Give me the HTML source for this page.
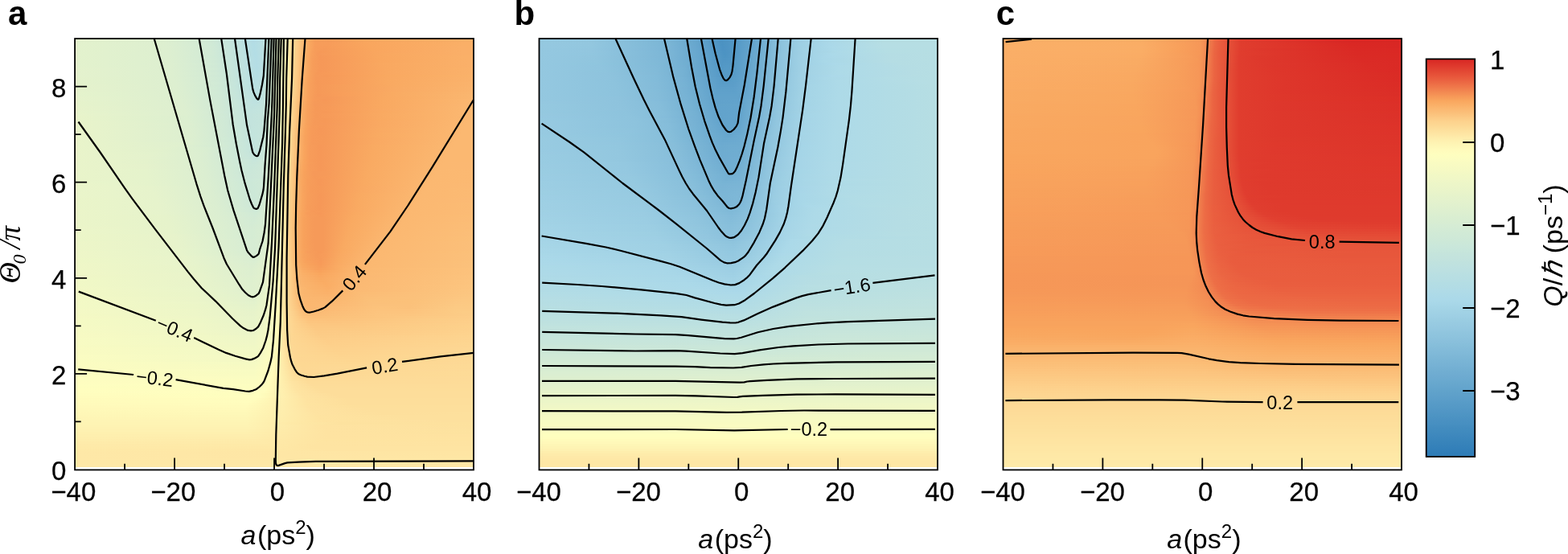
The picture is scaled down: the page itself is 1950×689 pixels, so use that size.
<!DOCTYPE html>
<html><head><meta charset="utf-8"><title>figure</title>
<style>
html,body{margin:0;padding:0;background:#fff}
body{width:1950px;height:689px;position:relative;overflow:hidden}
.hm{position:absolute;display:flex;flex-direction:column}
.hm i{display:block;flex:none}
svg{position:absolute;left:0;top:0}
</style></head><body>
<div class="hm" style="left:93.1px;top:48px;width:496px;height:532.5px"><i style="height:3px;background:linear-gradient(90deg,#e3f2cd 0px,#ddefd0 114px,#d0e9d6 171px,#c0e2df 203px,#b3dce5 221px,#b9dfe2 234px,#c5e4dc 241px,#fefebf 261px,#fddb97 271px,#f9a961 291px,#f79e5b 298px,#f79c5a 315px,#f9a65e 359px,#f9ab63 417px,#faaf67 495px)"></i><i style="height:3px;background:linear-gradient(90deg,#e3f2cd 0px,#ddefd0 114px,#d0e9d6 171px,#c0e2df 203px,#b3dce5 222px,#b9dfe2 234px,#c5e5dc 241px,#fefebf 261px,#fddd9a 270px,#f9a75f 292px,#f79d5a 299px,#f79c5a 317px,#f9a65e 361px,#faaf67 484px,#faaf67 495px)"></i><i style="height:3px;background:linear-gradient(90deg,#e3f2cd 0px,#ddefd0 114px,#d0ead6 171px,#c0e2de 203px,#b3dde5 222px,#b8dfe2 233px,#c6e5dc 241px,#fefebf 261px,#fddd99 270px,#f9a75f 292px,#f79d5a 299px,#f79c5a 314px,#f9a65e 365px,#faaf67 482px,#faaf67 495px)"></i><i style="height:3px;background:linear-gradient(90deg,#e3f2cd 0px,#ddefd0 115px,#d1ead6 171px,#c0e2de 203px,#b3dde5 223px,#b8dfe2 233px,#c6e5db 241px,#fefebf 261px,#fddc99 270px,#f9a75f 292px,#f79c5a 299px,#f79b59 312px,#f9a65e 368px,#faaf68 482px,#faaf67 495px)"></i><i style="height:3px;background:linear-gradient(90deg,#e3f2cd 0px,#ddefd0 115px,#d1ead6 171px,#c1e3de 203px,#b3dde5 223px,#b9dfe2 233px,#c9e6da 242px,#fefebf 261px,#fddc98 270px,#f9a860 291px,#f79d5a 298px,#f69a59 309px,#f9a65e 370px,#faaf68 482px,#faaf68 495px)"></i><i style="height:3px;background:linear-gradient(90deg,#e3f2cd 0px,#ddefd0 116px,#d1ead6 172px,#c0e2de 204px,#b3dde5 224px,#b9dfe2 233px,#cae6da 242px,#fefebf 261px,#fddc98 270px,#f9aa62 290px,#f79e5b 296px,#f69958 305px,#f9a65f 374px,#faaf68 482px,#faaf68 495px)"></i><i style="height:3px;background:linear-gradient(90deg,#e3f2cd 0px,#ddefd0 116px,#d1ead6 172px,#c1e3de 203px,#b3dde5 224px,#b8dfe2 233px,#cae7da 242px,#fefebf 261px,#fddc98 270px,#f9ab64 289px,#f8a15c 294px,#f69959 302px,#f79d5a 325px,#f9a860 385px,#faaf68 485px,#faaf68 495px)"></i><i style="height:3px;background:linear-gradient(90deg,#e3f2cd 0px,#ddefd0 117px,#d0ead6 173px,#c1e3de 204px,#b3dde5 225px,#badfe2 234px,#cde8d8 243px,#fefebf 261px,#fddc98 270px,#f9aa63 289px,#f79f5b 295px,#f69858 305px,#f9a75f 378px,#fab068 485px,#fab068 495px)"></i><i style="height:3px;background:linear-gradient(90deg,#e3f2cd 0px,#ddefd0 118px,#d1ead6 173px,#c1e3de 204px,#b4dde5 225px,#b8dfe2 233px,#c8e6db 241px,#fcfdc0 260px,#fefebf 261px,#fdd995 271px,#f9aa62 289px,#f79e5b 295px,#f69858 305px,#f9a75f 381px,#fab068 487px,#fab068 495px)"></i><i style="height:3px;background:linear-gradient(90deg,#e3f2cd 0px,#ddefd0 118px,#d0e9d6 174px,#c0e2de 206px,#b4dde5 226px,#b9dfe2 234px,#cde8d8 243px,#fafcc2 259px,#fefebf 261px,#fdd995 271px,#f9a961 289px,#f79d5a 296px,#f69858 307px,#f9a75f 380px,#fab069 488px,#fab069 495px)"></i><i style="height:3px;background:linear-gradient(90deg,#e3f2cd 0px,#ddefd0 119px,#d1ead6 174px,#c0e2de 206px,#b4dde5 226px,#b9dfe2 234px,#cde8d8 243px,#fafcc1 259px,#fffebf 261px,#fdd995 271px,#f9a961 289px,#f79d5a 296px,#f69858 307px,#f9a860 382px,#fab069 489px,#fab069 495px)"></i><i style="height:3px;background:linear-gradient(90deg,#e3f2cd 0px,#ddefd0 120px,#d0e9d6 175px,#c0e2de 207px,#b4dde5 226px,#b9dfe2 234px,#cde8d8 243px,#fafcc1 259px,#fffebf 261px,#fdd894 271px,#f9a961 289px,#f79d5a 296px,#f69858 307px,#f9a860 384px,#fab069 491px,#fab069 495px)"></i><i style="height:3px;background:linear-gradient(90deg,#e4f2cd 0px,#ddefd0 120px,#d1ead6 175px,#c0e2de 207px,#b4dde4 227px,#bbe0e1 235px,#d0e9d6 244px,#fafcc1 259px,#fffebf 261px,#fdd894 271px,#f9a961 289px,#f79d5a 296px,#f69858 307px,#f9a860 385px,#fab169 492px,#fab169 495px)"></i><i style="height:3px;background:linear-gradient(90deg,#e4f2cd 0px,#ddefd0 121px,#d0e9d6 176px,#c0e2df 208px,#b4dde4 227px,#bbe0e1 235px,#d0e9d6 244px,#fafcc1 259px,#fffebf 261px,#fdd894 271px,#f9aa63 288px,#f79f5b 294px,#f69858 305px,#f9a861 388px,#fab16a 494px,#fab16a 495px)"></i><i style="height:3px;background:linear-gradient(90deg,#e4f2cd 0px,#ddefd0 122px,#d1ead6 176px,#c0e2de 208px,#b5dde4 227px,#bce0e1 235px,#d4ebd5 245px,#fcfdc0 260px,#fffebf 261px,#fdd894 271px,#faac64 287px,#f8a25c 292px,#f69958 301px,#f79b59 319px,#f9a861 387px,#fab16a 494px,#fab16a 495px)"></i><i style="height:3px;background:linear-gradient(90deg,#e4f2cd 0px,#ddefd0 122px,#d0e9d6 177px,#c0e2df 209px,#b5dde4 227px,#bde1e0 235px,#d4ebd4 245px,#fcfdc0 260px,#fffebf 261px,#fdd894 271px,#faad66 286px,#f8a35d 291px,#f69a59 299px,#f69958 312px,#f9a860 385px,#fab26a 495px)"></i><i style="height:3px;background:linear-gradient(90deg,#e4f2cc 0px,#ddefd0 123px,#d1ead6 177px,#c0e2de 209px,#b6dee4 227px,#bde1e0 235px,#d5ecd4 245px,#fffebf 261px,#fdd894 271px,#faac65 286px,#f8a25c 291px,#f69959 300px,#f69a59 315px,#f9a861 386px,#fab26b 495px)"></i><i style="height:3px;background:linear-gradient(90deg,#e4f2cc 0px,#ddefd0 124px,#d0e9d6 178px,#b7dee3 227px,#bee1e0 235px,#d6ecd4 245px,#fffebf 261px,#fdda97 270px,#faac64 286px,#f8a25c 291px,#f69958 301px,#f79b59 320px,#f9a961 387px,#fab26b 495px)"></i><i style="height:3px;background:linear-gradient(90deg,#e4f2cc 0px,#ddefd0 125px,#d1ead6 178px,#b8dfe3 226px,#bde1e0 234px,#d0e9d6 243px,#fdfdc0 260px,#fffdbe 261px,#fdda96 270px,#f9ab64 286px,#f8a15c 291px,#f69958 301px,#f79b59 320px,#f9a961 387px,#fab36c 495px)"></i><i style="height:3px;background:linear-gradient(90deg,#e5f2cc 0px,#ddefd0 126px,#d0e9d6 179px,#b8dfe2 225px,#bde1e0 233px,#cee8d7 242px,#fdfdc0 260px,#fffdbd 261px,#fddd99 269px,#f9ab63 286px,#f8a15c 291px,#f69958 302px,#f79f5b 334px,#f9aa62 396px,#fab36c 495px)"></i><i style="height:3px;background:linear-gradient(90deg,#e5f2cc 0px,#ddefd0 127px,#d0ead6 179px,#b9dfe2 225px,#bfe2df 234px,#d1ead6 243px,#fefdc0 260px,#fef8b8 262px,#fddc99 269px,#f9ab63 286px,#f8a15c 291px,#f69958 302px,#f79f5b 335px,#f9aa63 397px,#fab46d 495px)"></i><i style="height:3px;background:linear-gradient(90deg,#e5f2cc 0px,#ddefd0 127px,#d0e9d6 180px,#badfe2 225px,#bfe2df 234px,#d1ead6 243px,#fefebf 260px,#fddc98 269px,#f9ab63 286px,#f8a15c 291px,#f69958 302px,#f79f5b 335px,#f9aa63 397px,#fab46d 495px)"></i><i style="height:3px;background:linear-gradient(90deg,#e5f3cc 0px,#ddefd0 128px,#d0ead6 180px,#bae0e1 225px,#bfe2df 234px,#d1ead6 243px,#fffebf 260px,#fddb97 269px,#f9ab63 286px,#f8a15c 291px,#f69958 302px,#f89f5b 336px,#f9ab63 398px,#fab56e 495px)"></i><i style="height:3px;background:linear-gradient(90deg,#e5f3cc 0px,#ddefd0 129px,#d0e9d6 181px,#bbe0e1 226px,#c1e3de 235px,#d4ebd5 244px,#fffebf 260px,#fddd9a 268px,#f9ab63 286px,#f8a15c 291px,#f69858 302px,#f89f5b 336px,#f9ab63 397px,#fab66f 495px)"></i><i style="height:3px;background:linear-gradient(90deg,#e6f3cc 0px,#ddefd0 130px,#d0e9d6 181px,#bbe0e1 226px,#c1e3de 235px,#d4ebd5 244px,#fdfdc0 259px,#fffdbe 260px,#fddc99 268px,#faac65 285px,#f8a25c 290px,#f69a59 299px,#f69959 314px,#f9a961 384px,#fab66f 495px)"></i><i style="height:3px;background:linear-gradient(90deg,#e6f3cc 0px,#ddefd0 132px,#d0e9d6 182px,#bce1e0 226px,#c2e3de 235px,#d1ead6 243px,#fefdc0 259px,#fff8b9 261px,#fddc98 268px,#faae67 284px,#f9a45d 289px,#f79b59 297px,#f69858 310px,#f9a961 383px,#fbb770 495px)"></i><i style="height:3px;background:linear-gradient(90deg,#e6f3cb 0px,#ddefd0 133px,#d0e9d6 182px,#bee1e0 224px,#c2e3de 234px,#cfe9d7 242px,#fefebf 259px,#fef4b4 262px,#fddb98 268px,#faaf68 283px,#f8a35d 289px,#f69a59 298px,#f69958 312px,#f9a961 383px,#fbb770 495px)"></i><i style="height:3px;background:linear-gradient(90deg,#e6f3cb 0px,#ddefd0 134px,#d0e9d6 183px,#bfe2df 222px,#c2e3dd 234px,#cfe9d7 242px,#fefebf 259px,#feeaa9 264px,#fdd591 270px,#faac65 284px,#f8a25c 289px,#f69959 299px,#f69a59 314px,#f9a961 382px,#fbb771 495px)"></i><i style="height:3px;background:linear-gradient(90deg,#e7f3cb 0px,#ddefd0 135px,#d0e9d6 183px,#c0e2de 220px,#c3e4dd 234px,#d0e9d6 242px,#fefebf 259px,#feeaa9 264px,#fdd590 270px,#faac64 284px,#f8a25c 289px,#f69958 300px,#f79b59 318px,#f9a961 383px,#fbb871 495px)"></i><i style="height:3px;background:linear-gradient(90deg,#e7f3cb 0px,#ddefd0 137px,#d0e9d6 184px,#c1e3de 219px,#c4e4dd 234px,#cfe9d7 241px,#fefebf 259px,#fdd894 269px,#f9ab64 284px,#f8a15c 289px,#f69958 300px,#f79b59 318px,#f9a962 383px,#fbb871 495px)"></i><i style="height:3px;background:linear-gradient(90deg,#e7f4cb 0px,#ddefd0 138px,#d0e9d7 185px,#c2e3de 218px,#c3e4dd 233px,#cde8d8 240px,#fefebf 259px,#fdd894 269px,#faad66 283px,#f8a35d 288px,#f69a59 297px,#f69958 311px,#f9a961 381px,#fbb871 495px)"></i><i style="height:3px;background:linear-gradient(90deg,#e8f4cb 0px,#ddefd0 139px,#d0e9d6 185px,#c2e3dd 218px,#c5e4dc 234px,#d2ead5 242px,#fefebf 259px,#feeaa9 264px,#fdd590 270px,#f9ab63 284px,#f8a15c 289px,#f69958 300px,#f79c5a 321px,#f9aa62 383px,#fbb871 495px)"></i><i style="height:3px;background:linear-gradient(90deg,#e8f4ca 0px,#dcefd0 140px,#d0e9d7 186px,#c2e3dd 218px,#c5e4dc 234px,#d2ead5 242px,#fefebf 259px,#feeaa9 264px,#fdd590 270px,#f9ab63 284px,#f8a15c 289px,#f69958 300px,#f79c5a 323px,#f9aa62 384px,#fbb871 495px)"></i><i style="height:3px;background:linear-gradient(90deg,#e8f4ca 0px,#dcefd0 141px,#d0e9d6 186px,#c3e3dd 218px,#c4e4dc 233px,#d0e9d6 241px,#fefebf 259px,#feeaa9 264px,#fdd590 270px,#faad66 283px,#f8a35d 288px,#f69a59 297px,#f69958 311px,#f9a961 379px,#fbb871 492px,#fbb871 495px)"></i><i style="height:3px;background:linear-gradient(90deg,#e9f4ca 0px,#dcefd0 142px,#d0e9d6 186px,#c3e3dd 218px,#c4e4dc 233px,#d0e9d6 241px,#fefebf 259px,#feeaa9 264px,#fdd490 270px,#faad66 283px,#f8a35d 288px,#f69a59 297px,#f69958 311px,#f9a962 379px,#fbb871 490px,#fbb871 495px)"></i><i style="height:3px;background:linear-gradient(90deg,#e9f4ca 0px,#ddefd0 142px,#d0e9d6 187px,#c3e3dd 218px,#c5e4dc 233px,#d1ead6 241px,#fffebf 259px,#feeaa9 264px,#fdd48f 270px,#faaf68 282px,#f8a25c 288px,#f69a59 297px,#f69959 311px,#f9a962 379px,#fbb871 488px,#fbb871 495px)"></i><i style="height:3px;background:linear-gradient(90deg,#e9f4ca 0px,#dcefd0 143px,#d0e9d6 187px,#c3e3dd 219px,#c5e5dc 234px,#d3ebd5 242px,#fffebf 259px,#feeaa8 264px,#fdd48f 270px,#fab16a 281px,#f9a45d 287px,#f79b59 295px,#f69958 308px,#f9a962 378px,#fbb871 486px,#fbb871 495px)"></i><i style="height:3px;background:linear-gradient(90deg,#e9f4ca 0px,#ddefd0 143px,#d0e9d6 187px,#c3e4dd 219px,#c5e4dc 233px,#d1ead6 241px,#fffebf 259px,#fdd692 269px,#fab36b 280px,#f9a55e 286px,#f79c5a 293px,#f69858 306px,#f9aa62 378px,#fbb871 485px,#fbb871 495px)"></i><i style="height:3px;background:linear-gradient(90deg,#e9f4ca 0px,#ddefd0 143px,#d0e9d6 188px,#c3e4dd 220px,#c5e4dc 233px,#d1ead6 241px,#fffebf 259px,#fdd894 268px,#fab26a 280px,#f9a45d 286px,#f79b59 294px,#f69858 307px,#f9a962 376px,#fbb871 482px,#fbb871 495px)"></i><i style="height:3px;background:linear-gradient(90deg,#e9f4ca 0px,#ddefd0 144px,#d0e9d6 189px,#c3e4dd 221px,#c5e5dc 233px,#d2ead6 241px,#fffebf 259px,#fdd894 268px,#fab16a 280px,#f9a45d 286px,#f79b59 294px,#f69858 307px,#f9aa62 376px,#fbb871 481px,#fbb871 495px)"></i><i style="height:3px;background:linear-gradient(90deg,#e9f4ca 0px,#ddefd0 144px,#d0e9d6 189px,#c3e4dd 221px,#c6e5dc 233px,#d5ebd4 242px,#fffebf 259px,#fdd793 268px,#fab069 280px,#f8a35d 286px,#f79a59 295px,#f69958 309px,#f9aa62 375px,#fbb871 479px,#fbb871 495px)"></i><i style="height:3px;background:linear-gradient(90deg,#e9f4ca 0px,#ddefd0 143px,#d0ead6 189px,#c3e4dd 222px,#c6e5db 233px,#d5ecd4 242px,#fffebf 259px,#fdd792 268px,#fab069 280px,#f8a35d 286px,#f79a59 295px,#f69958 309px,#f9a962 374px,#fbb871 477px,#fbb871 495px)"></i><i style="height:3px;background:linear-gradient(90deg,#e9f4ca 0px,#deefd0 142px,#d0e9d6 190px,#c3e4dd 222px,#c6e5db 233px,#d6ecd4 242px,#fffebf 259px,#fdd792 268px,#fab069 280px,#f8a35d 286px,#f79a59 295px,#f69958 309px,#f9a962 373px,#fbb871 475px,#fbb871 495px)"></i><i style="height:3px;background:linear-gradient(90deg,#e9f4ca 0px,#dff0cf 138px,#d1ead6 189px,#c3e4dd 223px,#c7e5db 233px,#d9edd2 243px,#fffebf 259px,#fdd692 268px,#fab069 280px,#f8a35d 286px,#f69a59 295px,#f69958 309px,#f9a962 372px,#fbb871 473px,#fbb871 495px)"></i><i style="height:3px;background:linear-gradient(90deg,#e9f4ca 0px,#e0f0cf 129px,#d2ead5 187px,#c3e4dd 223px,#c7e5db 233px,#d9edd2 243px,#fffebf 259px,#fdd692 268px,#fab36c 279px,#f9a55e 285px,#f79c5a 292px,#f69858 306px,#f9aa62 372px,#fbb871 471px,#fbb871 495px)"></i><i style="height:3px;background:linear-gradient(90deg,#e9f4ca 0px,#e1f1ce 116px,#d8edd3 170px,#c3e4dd 224px,#c7e6db 233px,#d9edd2 243px,#fffebf 259px,#fdd692 268px,#fab36c 279px,#f9a55e 285px,#f79c5a 292px,#f69858 306px,#f9aa62 372px,#fbb871 469px,#fbb871 495px)"></i><i style="height:3px;background:linear-gradient(90deg,#e9f4ca 0px,#e2f1cd 106px,#daeed1 161px,#cde8d8 200px,#c3e4dd 225px,#c9e6da 234px,#def0cf 245px,#fffdbe 259px,#fdd692 268px,#fab36c 279px,#f9a55e 285px,#f79c5a 292px,#f69858 306px,#f9aa62 370px,#fbb871 467px,#fbb871 495px)"></i><i style="height:3px;background:linear-gradient(90deg,#e9f4ca 0px,#e3f2cd 100px,#dbeed1 159px,#cee8d8 199px,#c4e4dc 225px,#cbe7d9 235px,#e1f1ce 246px,#fefdc0 258px,#fffcbd 259px,#fdd995 267px,#fab36b 279px,#f9a55e 285px,#f79c5a 292px,#f69858 306px,#f9aa62 370px,#fbb871 465px,#fbb871 495px)"></i><i style="height:3px;background:linear-gradient(90deg,#e9f4ca 0px,#e4f2cd 95px,#dbeed1 159px,#cee8d8 199px,#c5e4dc 225px,#cbe7d9 235px,#def0cf 245px,#fefebf 258px,#fef3b3 261px,#fdd995 267px,#fab26b 279px,#f9a55e 285px,#f79c5a 292px,#f69858 306px,#f9aa62 369px,#fbb871 463px,#fbb871 495px)"></i><i style="height:3px;background:linear-gradient(90deg,#e9f4ca 0px,#e4f2cd 92px,#dbeed1 159px,#cee8d8 200px,#c6e5db 225px,#cde8d8 236px,#e1f1ce 246px,#fffebf 258px,#feedac 262px,#fdd894 267px,#fab56e 278px,#f9a55d 285px,#f79c5a 292px,#f69858 306px,#f9aa62 368px,#fbb871 461px,#fbb871 495px)"></i><i style="height:3px;background:linear-gradient(90deg,#e9f4ca 0px,#e4f2cc 91px,#dbeed1 159px,#c8e6db 224px,#cde8d8 235px,#ddefd0 244px,#fffebf 258px,#fdd893 267px,#fab46d 278px,#f9a45d 285px,#f79b59 293px,#f69858 306px,#f9aa62 368px,#fbb871 460px,#fbb871 495px)"></i><i style="height:3px;background:linear-gradient(90deg,#e9f4ca 0px,#e4f2cc 90px,#dbeed1 160px,#c9e6da 222px,#cde8d8 234px,#d9edd2 242px,#fffdbe 258px,#fdd793 267px,#fab66f 277px,#f9a65e 284px,#f79d5a 291px,#f69858 305px,#f9aa62 367px,#fbb871 458px,#fbb872 495px)"></i><i style="height:3px;background:linear-gradient(90deg,#e9f4ca 0px,#e5f2cc 89px,#dbeed1 160px,#cae7da 220px,#cde8d8 234px,#d9edd2 242px,#fefdc0 257px,#fffdbd 258px,#fdd793 267px,#fab56e 277px,#f9a55e 284px,#f79c5a 291px,#f69858 305px,#f9aa62 366px,#fbb871 456px,#fbb872 495px)"></i><i style="height:3px;background:linear-gradient(90deg,#e9f4ca 0px,#e5f2cc 89px,#dbeed1 161px,#cae7d9 219px,#cee8d8 234px,#daeed1 242px,#fefebf 257px,#fef4b4 260px,#fdd793 267px,#fab26a 278px,#f9a55d 284px,#f79c5a 292px,#f69858 306px,#f9aa62 365px,#fbb871 454px,#fbb872 495px)"></i><i style="height:3px;background:linear-gradient(90deg,#e9f4ca 0px,#e5f3cc 89px,#dbeed1 162px,#cbe7d9 218px,#cee8d8 234px,#dbeed1 242px,#fefebf 257px,#feeaa9 262px,#fccc87 270px,#faae67 279px,#f9a45d 284px,#f79c5a 292px,#f69858 306px,#f9aa62 364px,#fbb871 452px,#fbb972 495px)"></i><i style="height:3px;background:linear-gradient(90deg,#e9f4ca 0px,#e5f3cc 89px,#dbeed1 163px,#cbe7d9 217px,#cee8d8 233px,#d9edd2 241px,#fffebf 257px,#feeaa9 262px,#fcc882 271px,#faac64 280px,#f8a25c 285px,#f69959 297px,#f69a59 312px,#f9aa62 363px,#fbb871 450px,#fbb972 495px)"></i><i style="height:3px;background:linear-gradient(90deg,#e9f4ca 0px,#e5f3cc 90px,#dbeed1 163px,#cce7d9 217px,#cee8d8 233px,#d9edd2 241px,#fffebf 257px,#feeaa8 262px,#fcc882 271px,#f9ab64 280px,#f8a25c 285px,#f69959 297px,#f69a59 312px,#f9aa62 362px,#fbb871 448px,#fbb972 495px)"></i><i style="height:3px;background:linear-gradient(90deg,#e9f4ca 0px,#e5f3cc 91px,#dbeed1 164px,#cce7d9 217px,#cee8d8 233px,#daeed2 241px,#fffebf 257px,#fee9a8 262px,#fcc882 271px,#f9ab64 280px,#f8a25c 285px,#f69958 298px,#f79b59 315px,#f9aa62 363px,#fbb871 446px,#fbb972 495px)"></i><i style="height:3px;background:linear-gradient(90deg,#e9f4ca 0px,#e5f3cc 92px,#dbeed1 165px,#cce8d9 218px,#cfe9d7 234px,#dcefd1 242px,#fffebf 257px,#feedad 261px,#fdd691 267px,#fab069 278px,#f9a55e 283px,#f79d5a 290px,#f69858 305px,#f9aa62 361px,#fbb871 444px,#fbb972 495px)"></i><i style="height:3px;background:linear-gradient(90deg,#e9f5ca 0px,#e5f3cc 93px,#dbeed1 166px,#cce8d8 218px,#cfe9d7 234px,#dcefd1 242px,#fffebf 257px,#fdd894 266px,#fab069 278px,#f9a55e 283px,#f79d5a 290px,#f69858 305px,#f9aa62 360px,#fbb871 442px,#fbb972 495px)"></i><i style="height:3px;background:linear-gradient(90deg,#eaf5ca 0px,#e5f3cc 94px,#dbeed1 167px,#cce8d8 219px,#cfe9d7 234px,#def0cf 243px,#fffebf 257px,#fdd793 266px,#fab069 278px,#f9a55e 283px,#f79d5a 290px,#f69858 305px,#f9aa62 360px,#fbb871 440px,#fbb973 495px)"></i><i style="height:3px;background:linear-gradient(90deg,#eaf5ca 0px,#e6f3cc 95px,#dbeed1 168px,#cce8d8 220px,#cfe9d7 234px,#def0cf 243px,#fffebf 257px,#fdd793 266px,#fab069 278px,#f8a35d 284px,#f79b59 293px,#f69958 307px,#f9a962 357px,#fbb871 438px,#fbb973 495px)"></i><i style="height:3px;background:linear-gradient(90deg,#eaf5ca 0px,#e6f3cc 96px,#dbeed1 169px,#cce8d8 220px,#cfe9d7 234px,#def0cf 243px,#fffebf 257px,#fdd792 266px,#fab069 278px,#f8a35d 284px,#f79b59 293px,#f69958 307px,#f9a962 356px,#fbb871 436px,#fbba73 495px)"></i><i style="height:3px;background:linear-gradient(90deg,#eaf5ca 0px,#e6f3cc 98px,#dbeed1 170px,#cce8d8 221px,#d0e9d7 234px,#dff0cf 243px,#fffebf 257px,#fdd692 266px,#fab069 278px,#f8a35d 284px,#f79b59 293px,#f69958 307px,#f9a962 355px,#fbb871 434px,#fbba73 495px)"></i><i style="height:3px;background:linear-gradient(90deg,#eaf5ca 0px,#e6f3cc 99px,#dbeed1 171px,#cce8d8 222px,#d0e9d6 234px,#e1f1ce 244px,#fffebf 257px,#fdd692 266px,#fab36c 277px,#f9a55e 283px,#f79d5a 290px,#f69858 306px,#f9aa62 355px,#fbb871 432px,#fbba73 495px)"></i><i style="height:3px;background:linear-gradient(90deg,#eaf5ca 0px,#e6f3cc 100px,#dbeed1 172px,#cce8d8 223px,#d0ead6 234px,#e1f1ce 244px,#fffebf 257px,#fdd692 266px,#fab36c 277px,#f9a55e 283px,#f79d5a 290px,#f69858 306px,#f9aa62 354px,#fbb871 430px,#fbba73 495px)"></i><i style="height:3px;background:linear-gradient(90deg,#eaf5c9 0px,#e6f3cc 102px,#dbeed1 173px,#cce8d8 224px,#d1ead6 234px,#e4f2cc 245px,#fffebf 257px,#fdd692 266px,#fab36c 277px,#f9a55e 283px,#f79d5a 290px,#f69858 306px,#f9aa62 353px,#fbb871 428px,#fbba74 495px)"></i><i style="height:3px;background:linear-gradient(90deg,#eaf5c9 0px,#e6f3cc 103px,#dbeed1 174px,#cde8d8 224px,#d2ead6 234px,#e7f3cb 246px,#fffdbe 257px,#fdd692 266px,#fab36b 277px,#f9a55e 283px,#f79d5a 290px,#f69858 306px,#f9aa62 353px,#fbb871 426px,#fbba74 495px)"></i><i style="height:3px;background:linear-gradient(90deg,#eaf5c9 0px,#e6f3cc 105px,#dbeed1 175px,#cde8d8 225px,#d4ebd5 235px,#f1f8c6 250px,#fffdbe 257px,#fdd692 266px,#fab56e 276px,#f9a55e 283px,#f79d5a 290px,#f69858 306px,#f9aa62 352px,#fbb871 424px,#fbbb74 495px)"></i><i style="height:3px;background:linear-gradient(90deg,#eaf5c9 0px,#e6f3cc 106px,#dbeed1 177px,#cde8d8 225px,#d4ebd4 235px,#eff7c7 249px,#fefebf 256px,#fef4b4 259px,#fdd995 265px,#fbb771 275px,#f9a75f 282px,#f79d5a 289px,#f69858 305px,#f9aa62 352px,#fbb871 422px,#fbbb74 495px)"></i><i style="height:3px;background:linear-gradient(90deg,#eaf5c9 0px,#e6f3cc 108px,#dbeed1 178px,#cee9d7 225px,#d5ebd4 235px,#ebf5c9 247px,#fffebf 256px,#feeead 260px,#fdd590 266px,#fbb770 275px,#f9a75f 282px,#f79d5a 289px,#f69858 305px,#f9aa62 351px,#fbb871 419px,#fbbb74 495px)"></i><i style="height:3px;background:linear-gradient(90deg,#ebf5c9 0px,#e6f3cc 109px,#dbeed1 179px,#cfe9d7 225px,#d6ecd3 236px,#eef7c7 248px,#fffdbe 256px,#fee8a6 261px,#fcc680 270px,#faac64 279px,#f8a35d 284px,#f79a59 295px,#f69958 308px,#f9a962 348px,#fbb871 417px,#fbbb75 495px)"></i><i style="height:3px;background:linear-gradient(90deg,#ebf5c9 0px,#e6f3cc 111px,#dbeed1 180px,#d1ead6 225px,#d7ecd3 236px,#ecf6c8 247px,#fefebf 255px,#fef4b4 258px,#fdd793 265px,#fab56e 275px,#f9a65e 282px,#f79d5a 289px,#f69858 305px,#f9aa62 349px,#fbb871 415px,#fbbb75 495px)"></i><i style="height:3px;background:linear-gradient(90deg,#ebf5c9 0px,#e6f3cb 112px,#dbeed1 181px,#d2ead6 224px,#d7ecd3 236px,#eaf5ca 246px,#fefebf 255px,#feeaa9 260px,#fccc87 268px,#fab068 277px,#f9a45d 283px,#f79c5a 292px,#f69958 307px,#f9aa62 347px,#fbb871 413px,#fbbc75 495px)"></i><i style="height:3px;background:linear-gradient(90deg,#ebf5c9 0px,#e6f3cb 114px,#dbeed1 182px,#d3ead5 223px,#d8edd3 236px,#e8f4cb 245px,#fffebf 255px,#feeaa9 260px,#fcc883 269px,#faad66 278px,#f8a25c 284px,#f69a59 297px,#f69a59 310px,#f9aa62 346px,#fbb871 410px,#fbbc76 495px)"></i><i style="height:3px;background:linear-gradient(90deg,#ebf5c9 0px,#e6f3cb 115px,#dbeed1 183px,#d3ebd5 222px,#d8edd3 236px,#e8f4cb 245px,#fffebf 255px,#feeaa9 260px,#fcc883 269px,#faad66 278px,#f8a25c 284px,#f69a59 297px,#f69a59 310px,#f9aa62 345px,#fbb871 408px,#fbbc76 495px)"></i><i style="height:3px;background:linear-gradient(90deg,#ebf5c9 0px,#e6f3cb 117px,#dbeed1 185px,#d4ebd5 221px,#d7edd3 235px,#e3f2cd 243px,#fffebf 255px,#feeaa9 260px,#fcc883 269px,#faad66 278px,#f8a25c 284px,#f69a59 297px,#f69a59 310px,#f9aa62 344px,#fbb871 406px,#fbbd76 495px)"></i><i style="height:3px;background:linear-gradient(90deg,#ebf5c9 0px,#e6f3cb 118px,#dbeed1 186px,#d4ebd4 220px,#d8edd3 235px,#e6f3cc 244px,#fffebf 255px,#feeaa9 260px,#fcc883 269px,#faad66 278px,#f8a25c 284px,#f69a59 297px,#f69a59 309px,#f9aa62 343px,#fbb871 403px,#fbbd77 495px)"></i><i style="height:3px;background:linear-gradient(90deg,#ecf5c9 0px,#e6f3cb 119px,#dbeed1 187px,#d5ebd4 220px,#d8edd3 235px,#e6f3cc 244px,#fffebf 255px,#feeaa9 260px,#fcc883 269px,#faad66 278px,#f8a25c 284px,#f69a59 297px,#f69a59 309px,#f9aa62 342px,#fbb871 401px,#fbbd77 495px)"></i><i style="height:3px;background:linear-gradient(90deg,#ecf6c9 0px,#e6f3cb 121px,#d5ecd4 220px,#d8edd2 235px,#e6f3cc 244px,#fffebf 255px,#feeaa9 260px,#fcc883 269px,#faad66 278px,#f8a25c 284px,#f69a59 297px,#f69a59 309px,#f9aa62 341px,#fbb871 399px,#fbbe77 495px)"></i><i style="height:3px;background:linear-gradient(90deg,#ecf6c9 0px,#e6f3cb 122px,#d5ecd4 220px,#d8edd2 235px,#e6f3cb 244px,#fffebf 255px,#feeaa9 260px,#fcc883 269px,#faad66 278px,#f8a25c 284px,#f69a59 297px,#f69a59 309px,#f9aa62 340px,#fbb871 396px,#fbbe78 495px)"></i><i style="height:3px;background:linear-gradient(90deg,#ecf6c8 0px,#e7f3cb 123px,#d5ecd4 220px,#d9edd2 235px,#e8f4ca 245px,#fffebf 255px,#feeaa9 260px,#fcc883 269px,#faad66 278px,#f8a25c 284px,#f69a59 297px,#f69a59 309px,#f9aa62 339px,#fbb871 394px,#fbbe78 495px)"></i><i style="height:3px;background:linear-gradient(90deg,#ecf6c8 0px,#e7f3cb 125px,#d5ecd4 220px,#d8edd2 234px,#e7f3cb 244px,#fffebf 255px,#feeaa9 260px,#fcc883 269px,#faad66 278px,#f8a25c 284px,#f69a59 297px,#f69a59 309px,#f9aa62 338px,#fbb871 391px,#fbbf78 495px)"></i><i style="height:3px;background:linear-gradient(90deg,#ecf6c8 0px,#e7f3cb 126px,#d6ecd4 221px,#d9edd2 234px,#e9f5ca 245px,#fffebf 255px,#feeaa9 260px,#fcc883 269px,#faad66 278px,#f8a25c 284px,#f69a59 297px,#f69a59 309px,#f9aa62 337px,#fbb871 389px,#fbbf78 495px)"></i><i style="height:3px;background:linear-gradient(90deg,#edf6c8 0px,#e7f3cb 127px,#d6ecd4 222px,#d9edd2 234px,#ecf6c8 246px,#fffebf 255px,#feeaa9 260px,#fcc883 269px,#faad66 278px,#f8a25c 284px,#f69a59 297px,#f69a59 309px,#f9aa62 336px,#fbb871 386px,#fbbf79 495px)"></i><i style="height:3px;background:linear-gradient(90deg,#edf6c8 0px,#e7f3cb 128px,#d6ecd4 222px,#daeed2 234px,#edf6c8 246px,#fffebf 255px,#feeaa9 260px,#fcc883 269px,#faad66 278px,#f8a25c 284px,#f69a59 298px,#f69a59 309px,#f9aa62 335px,#fbb871 384px,#fbbf79 495px)"></i><i style="height:3px;background:linear-gradient(90deg,#edf6c8 0px,#e7f3cb 130px,#d6ecd4 223px,#daeed1 234px,#edf6c8 246px,#fffebf 255px,#feeaa8 260px,#fcc57f 270px,#faad66 278px,#f8a25c 284px,#f69a59 298px,#f69a59 309px,#f9aa62 334px,#fbb871 381px,#fbbf79 495px)"></i><i style="height:3px;background:linear-gradient(90deg,#edf6c8 0px,#e7f4cb 131px,#d6ecd4 224px,#dcefd1 235px,#f0f7c7 247px,#fffdbe 255px,#feeaa8 260px,#fcc57f 270px,#faad66 278px,#f8a35d 284px,#f69a59 298px,#f69a59 309px,#f9a961 332px,#fbb871 378px,#fbbf79 495px)"></i><i style="height:3px;background:linear-gradient(90deg,#eef6c8 0px,#e7f4cb 132px,#d6ecd3 224px,#deefd0 236px,#f4f9c4 249px,#fffcbd 255px,#feeead 259px,#fdd38f 266px,#fab56e 275px,#f9a65e 282px,#f79e5b 289px,#f69958 306px,#f9aa62 333px,#fbb871 376px,#fbc079 495px)"></i><i style="height:3px;background:linear-gradient(90deg,#eef6c8 0px,#e7f4cb 133px,#d7ecd3 224px,#def0cf 236px,#f3f9c5 248px,#fefebf 254px,#feedac 259px,#fcc883 269px,#faae66 278px,#f8a35d 284px,#f69a59 301px,#f79c5a 311px,#f9a962 330px,#fbb871 373px,#fbc07a 495px)"></i><i style="height:3px;background:linear-gradient(90deg,#eef6c8 0px,#e8f4cb 134px,#d8edd3 224px,#e0f0cf 237px,#f7fbc3 250px,#fffebf 254px,#feedac 259px,#fcc57f 270px,#faae66 278px,#f8a35d 284px,#f69a59 302px,#f79d5a 312px,#f9a962 329px,#fbb871 371px,#fbc07a 495px)"></i><i style="height:3px;background:linear-gradient(90deg,#eef7c7 0px,#e8f4cb 135px,#d9edd2 224px,#e1f1ce 237px,#f3f9c5 248px,#fffebf 254px,#fee8a7 260px,#fbbc75 273px,#f9a861 281px,#f8a05b 289px,#f69a59 306px,#f9aa62 329px,#fbb871 369px,#fbc07a 495px)"></i><i style="height:3px;background:linear-gradient(90deg,#eef7c7 0px,#e8f4cb 137px,#daeed2 223px,#e1f1ce 237px,#f3f9c5 248px,#fffebf 254px,#fee8a7 260px,#fbc079 272px,#f9ab63 280px,#f8a35d 286px,#f79a59 306px,#f9aa62 328px,#fbb871 366px,#fbc17a 495px)"></i><i style="height:3px;background:linear-gradient(90deg,#eff7c7 0px,#e8f4cb 138px,#dbeed1 222px,#e2f1ce 237px,#f3f9c5 248px,#fffebf 254px,#fee5a2 261px,#fbbb74 274px,#f9a961 282px,#f8a25c 291px,#f79b59 306px,#f9aa63 327px,#fbb871 364px,#fbc17b 495px)"></i><i style="height:3px;background:linear-gradient(90deg,#eff7c7 0px,#e8f4ca 139px,#dceed1 221px,#e1f1ce 236px,#f0f7c7 246px,#fffebf 254px,#fdd490 266px,#fab46d 277px,#f9a860 284px,#f79d5a 306px,#faac64 328px,#fbb871 362px,#fbc17b 495px)"></i><i style="height:3px;background:linear-gradient(90deg,#eff7c7 0px,#e8f4ca 140px,#dcefd0 220px,#e2f1ce 236px,#f2f8c6 247px,#fffdbe 254px,#fdd490 266px,#fbb871 276px,#f9ab64 283px,#f89f5b 303px,#f8a25c 311px,#fab068 335px,#fbb972 365px,#fcc27b 495px)"></i><i style="height:3px;background:linear-gradient(90deg,#f0f7c7 0px,#e8f4ca 141px,#ddefd0 219px,#e1f1ce 235px,#f0f8c6 246px,#fefec0 253px,#fef6b6 256px,#fdd793 265px,#fbb972 276px,#faad65 284px,#f8a25c 305px,#f9ab63 323px,#fbb871 357px,#fcc27c 495px)"></i><i style="height:3px;background:linear-gradient(90deg,#f0f7c7 0px,#e9f4ca 142px,#ddefd0 218px,#e1f1ce 235px,#f1f8c6 246px,#fefebf 253px,#feeead 258px,#fdd793 265px,#fbbc75 275px,#fab068 283px,#f9a65e 305px,#faaf68 330px,#fbb972 358px,#fcc27c 495px)"></i><i style="height:3px;background:linear-gradient(90deg,#f0f7c6 0px,#e9f4ca 143px,#deefd0 218px,#e2f1ce 235px,#f1f8c6 246px,#fffebf 253px,#fdd792 265px,#fbbc76 275px,#fab16a 283px,#f9a861 305px,#faae66 324px,#fbb872 354px,#fcc37d 495px)"></i><i style="height:3px;background:linear-gradient(90deg,#f0f8c6 0px,#e9f4ca 144px,#def0cf 218px,#e1f1ce 234px,#f0f7c6 245px,#fffebf 253px,#fdd995 264px,#fbbc76 275px,#fab26b 283px,#f9aa62 306px,#faaf68 325px,#fbb972 354px,#fcc37d 495px)"></i><i style="height:3px;background:linear-gradient(90deg,#f1f8c6 0px,#e9f4ca 146px,#def0cf 218px,#e2f1ce 234px,#eff7c7 244px,#fffdbe 253px,#fdd792 265px,#fbbd76 275px,#fab36c 283px,#f9ab63 308px,#fab16a 327px,#fbb973 354px,#fcc47e 495px)"></i><i style="height:3px;background:linear-gradient(90deg,#f1f8c6 0px,#e9f4ca 147px,#dff0cf 219px,#e2f1ce 234px,#eff7c7 244px,#fffdbe 253px,#fdd792 265px,#fbbd77 275px,#fab46d 283px,#faac64 311px,#fbb973 351px,#fcc47e 495px)"></i><i style="height:3px;background:linear-gradient(90deg,#f1f8c6 0px,#e9f4ca 149px,#dff0cf 220px,#e2f1cd 234px,#eff7c7 244px,#fefebf 252px,#feecab 258px,#fdd490 266px,#fbbe78 275px,#fab56e 283px,#faad65 313px,#fbb973 348px,#fcc57f 495px)"></i><i style="height:3px;background:linear-gradient(90deg,#f2f8c6 0px,#e9f5ca 150px,#dff0cf 222px,#e4f2cd 235px,#f3f9c5 246px,#fffebf 252px,#fee8a7 259px,#fcca85 270px,#fbba73 278px,#fab36b 291px,#faae67 315px,#fbb973 345px,#fbbe78 408px,#fcc57f 495px)"></i><i style="height:3px;background:linear-gradient(90deg,#f2f8c5 0px,#eaf5ca 150px,#dff0cf 223px,#e5f3cc 236px,#f8fbc3 248px,#fffebf 252px,#fdd793 265px,#fbbe77 276px,#fab66f 284px,#fab068 314px,#fbba74 347px,#fbbe78 409px,#fcc680 495px)"></i><i style="height:3px;background:linear-gradient(90deg,#f2f8c5 0px,#eaf5c9 150px,#e0f0cf 224px,#e7f3cb 237px,#fffebf 252px,#fdd793 265px,#fbbe78 276px,#fab66f 284px,#fab16a 314px,#fbbc75 352px,#fbc17b 435px,#fcc681 495px)"></i><i style="height:3px;background:linear-gradient(90deg,#f2f8c5 0px,#eaf5c9 150px,#e0f1ce 224px,#e9f4ca 238px,#fffebf 252px,#fdd793 265px,#fbbd77 277px,#fab66f 286px,#fab36c 315px,#fbbd77 358px,#fbc17b 430px,#fcc781 493px,#fcc781 495px)"></i><i style="height:3px;background:linear-gradient(90deg,#f3f9c5 0px,#ebf5c9 150px,#e1f1ce 224px,#e9f5ca 238px,#fffebf 252px,#fdd894 265px,#fbbe78 277px,#fbb770 285px,#fab56e 314px,#fbbf78 364px,#fbc17b 426px,#fcc782 487px,#fcc882 495px)"></i><i style="height:3px;background:linear-gradient(90deg,#f3f9c5 0px,#ebf5c9 150px,#e2f1cd 223px,#eaf5c9 238px,#fffdbe 252px,#fdd894 265px,#fbbe77 278px,#fbb770 287px,#fab66f 316px,#fbc079 367px,#fbc17a 422px,#fcc882 481px,#fcc882 495px)"></i><i style="height:3px;background:linear-gradient(90deg,#f3f9c5 0px,#ecf6c9 149px,#e3f2cd 223px,#ebf5c9 238px,#fffdbe 252px,#fee8a6 259px,#fdd490 267px,#fbbd77 279px,#fbb770 288px,#fbb771 316px,#fbc07a 368px,#fbc17a 419px,#fcc883 477px,#fcc983 495px)"></i><i style="height:3px;background:linear-gradient(90deg,#f3f9c5 0px,#ecf6c8 150px,#e4f2cc 222px,#eaf5c9 237px,#fffdbe 252px,#fee8a6 259px,#fdd692 266px,#fbbd77 280px,#fbb770 290px,#fbb973 319px,#fbc17b 372px,#fbc17b 417px,#fcc983 474px,#fcca84 495px)"></i><i style="height:3px;background:linear-gradient(90deg,#f3f9c5 0px,#ecf6c8 150px,#e5f3cc 222px,#ebf5c9 237px,#fffdbe 252px,#fee8a6 259px,#fdd792 266px,#fbbc76 282px,#fbb771 293px,#fbbc76 325px,#fcc37c 381px,#fbc17b 415px,#fcca84 473px,#fcca85 495px)"></i><i style="height:3px;background:linear-gradient(90deg,#f4f9c5 0px,#edf6c8 150px,#e6f3cb 222px,#ebf5c9 237px,#fffdbe 252px,#fee8a6 259px,#fdd793 266px,#fbbd77 283px,#fbb872 294px,#fcc37d 375px,#fcc37d 416px,#fccb85 478px,#fccb85 495px)"></i><i style="height:3px;background:linear-gradient(90deg,#f4f9c5 0px,#edf6c8 151px,#e7f3cb 222px,#ecf6c8 237px,#fffebf 251px,#feeeae 257px,#fddb98 264px,#fbc17b 282px,#fbba74 293px,#fcc47e 379px,#fcc47e 417px,#fccc86 484px,#fccc86 495px)"></i><i style="height:3px;background:linear-gradient(90deg,#f4f9c4 0px,#edf6c8 152px,#e7f3cb 222px,#ecf6c9 236px,#fffebf 251px,#feebaa 258px,#fdd996 265px,#fbc17b 284px,#fbbc76 297px,#fcc57f 382px,#fcc680 421px,#fccc87 493px,#fccc87 495px)"></i><i style="height:3px;background:linear-gradient(90deg,#f5f9c4 0px,#eef6c8 153px,#e8f4cb 222px,#ecf6c8 236px,#fffdbe 251px,#feebaa 258px,#fdda96 265px,#fcc47e 284px,#fbbf78 298px,#fcc680 390px,#fcc983 433px,#fdcd88 495px)"></i><i style="height:3px;background:linear-gradient(90deg,#f5fac4 0px,#eef7c7 154px,#e8f4cb 222px,#edf6c8 236px,#fffdbe 251px,#fddc98 264px,#fdcf8a 275px,#fcc37d 292px,#fcc27c 321px,#fccc86 448px,#fdce89 495px)"></i><i style="height:3px;background:linear-gradient(90deg,#f5fac4 0px,#eef7c7 156px,#e8f4ca 223px,#eff7c7 237px,#fffdbe 251px,#fddc98 264px,#fdd28d 273px,#fcc57f 292px,#fcc47e 321px,#fdcf8a 495px)"></i><i style="height:3px;background:linear-gradient(90deg,#f5fac4 0px,#eff7c7 157px,#e9f4ca 223px,#eff7c7 237px,#fffdbe 251px,#fddc99 264px,#fdd38e 273px,#fcc781 294px,#fcc680 328px,#fdd08b 495px)"></i><i style="height:3px;background:linear-gradient(90deg,#f6fac4 0px,#eff7c7 158px,#e9f4ca 223px,#f1f8c6 238px,#fffebf 250px,#feedad 257px,#fddc99 264px,#fdd38e 273px,#fcc882 297px,#fcc882 341px,#fdd18b 495px)"></i><i style="height:3px;background:linear-gradient(90deg,#f6fac4 0px,#eff7c7 160px,#eaf5ca 223px,#f3f9c5 240px,#fffebf 250px,#fddc99 264px,#fdd48f 273px,#fcc983 300px,#fcca84 358px,#fdd18c 495px)"></i><i style="height:3px;background:linear-gradient(90deg,#f6fac3 0px,#f0f7c7 161px,#ebf5c9 223px,#f5f9c4 241px,#fffebf 250px,#fddc99 264px,#fdd490 273px,#fcca85 303px,#fdcd88 408px,#fdd28d 495px)"></i><i style="height:3px;background:linear-gradient(90deg,#f7fac3 0px,#f0f7c6 163px,#ecf5c9 223px,#f5fac4 241px,#fffdbe 250px,#fdde9a 263px,#fdd691 271px,#fccb86 304px,#fdce89 404px,#fdd38e 495px)"></i><i style="height:3px;background:linear-gradient(90deg,#f7fac3 0px,#f1f8c6 164px,#edf6c8 223px,#f6fac4 241px,#fffdbd 250px,#fdde9a 263px,#fdd692 271px,#fccc87 307px,#fdd18c 431px,#fdd48f 495px)"></i><i style="height:3px;background:linear-gradient(90deg,#f7fbc3 0px,#f1f8c6 166px,#eef6c8 223px,#f5fac4 240px,#fffebf 249px,#fddd9a 263px,#fdd692 271px,#fdcd88 311px,#fdd490 495px)"></i><i style="height:3px;background:linear-gradient(90deg,#f8fbc3 0px,#f1f8c6 167px,#eff7c7 223px,#f6fac4 240px,#fffdbe 249px,#fdde9a 263px,#fdd792 271px,#fdce89 314px,#fdd590 495px)"></i><i style="height:3px;background:linear-gradient(90deg,#f8fbc3 0px,#f2f8c6 169px,#f0f7c7 224px,#f6fac3 240px,#fffdbe 249px,#fdde9b 263px,#fdd793 271px,#fdcf8a 317px,#fdd691 495px)"></i><i style="height:3px;background:linear-gradient(90deg,#f8fbc2 0px,#f2f8c5 170px,#f0f8c6 225px,#f8fbc3 241px,#fffcbd 249px,#fddd9a 264px,#fdd792 273px,#fdd08b 322px,#fdd692 495px)"></i><i style="height:3px;background:linear-gradient(90deg,#f9fbc2 0px,#f3f9c5 171px,#f1f8c6 226px,#f9fbc2 242px,#fffebf 248px,#fddd9a 264px,#fdd793 273px,#fdd18c 323px,#fdd793 495px)"></i><i style="height:3px;background:linear-gradient(90deg,#f9fbc2 0px,#f3f9c5 173px,#f2f8c6 227px,#fbfcc1 244px,#fffebf 248px,#fdde9b 264px,#fdd793 273px,#fdd28d 324px,#fdd894 495px)"></i><i style="height:3px;background:linear-gradient(90deg,#f9fbc2 0px,#f3f9c5 175px,#f2f8c5 227px,#fdfdc0 246px,#fffcbc 249px,#fddd9a 265px,#fdd793 274px,#fdd38e 329px,#fdd894 495px)"></i><i style="height:3px;background:linear-gradient(90deg,#fafcc2 0px,#f4f9c5 178px,#f3f9c5 227px,#fffdbe 248px,#fdde9a 265px,#fdd893 274px,#fdd48f 332px,#fdd995 495px)"></i><i style="height:3px;background:linear-gradient(90deg,#fafcc2 0px,#f4f9c5 182px,#f4f9c5 227px,#fffebf 247px,#fddd9a 266px,#fdd793 276px,#fdd590 339px,#fdd995 495px)"></i><i style="height:3px;background:linear-gradient(90deg,#fafcc1 0px,#f4f9c4 186px,#f5f9c4 226px,#fffebe 247px,#fddd99 267px,#fdd793 278px,#fdd691 346px,#fdd995 495px)"></i><i style="height:3px;background:linear-gradient(90deg,#fbfcc1 0px,#f5fac4 224px,#fffdbe 247px,#fddc99 268px,#fdd893 279px,#fdd792 353px,#fdd996 495px)"></i><i style="height:3px;background:linear-gradient(90deg,#fbfcc1 0px,#f6fac3 224px,#fffdbe 246px,#fddc99 269px,#fdd893 281px,#fdd894 366px,#fdda96 495px)"></i><i style="height:3px;background:linear-gradient(90deg,#fbfcc1 0px,#f7fac3 223px,#fffebf 245px,#fddc99 270px,#fdd894 283px,#fdda96 495px)"></i><i style="height:3px;background:linear-gradient(90deg,#fcfdc1 0px,#f8fbc3 223px,#fffdbe 245px,#fddc99 271px,#fdd894 284px,#fdda97 495px)"></i><i style="height:3px;background:linear-gradient(90deg,#fcfdc0 0px,#f8fbc2 223px,#fffdbe 244px,#fddd99 272px,#fdd894 286px,#fddb97 495px)"></i><i style="height:3px;background:linear-gradient(90deg,#fcfdc0 0px,#f9fbc2 224px,#fffdbd 244px,#fddd9a 273px,#fdd995 289px,#fddb97 495px)"></i><i style="height:3px;background:linear-gradient(90deg,#fdfdc0 0px,#fafcc2 225px,#fffdbe 243px,#fde09d 272px,#fdda96 288px,#fddb98 495px)"></i><i style="height:3px;background:linear-gradient(90deg,#fdfdc0 0px,#fbfcc1 227px,#fffdbe 242px,#fde29f 271px,#fddb97 289px,#fddb98 495px)"></i><i style="height:3px;background:linear-gradient(90deg,#fefdc0 0px,#fbfcc1 228px,#fffdbe 241px,#fee4a2 270px,#fddc98 290px,#fddb98 448px,#fddc98 495px)"></i><i style="height:3px;background:linear-gradient(90deg,#fefec0 0px,#fcfdc1 229px,#fffcbd 241px,#fee4a2 272px,#fddc99 295px,#fddc99 495px)"></i><i style="height:3px;background:linear-gradient(90deg,#fefebf 0px,#fcfdc0 229px,#fffcbd 240px,#fee4a2 273px,#fddd99 299px,#fddc99 495px)"></i><i style="height:3px;background:linear-gradient(90deg,#fffebf 0px,#fdfdc0 229px,#fffdbe 238px,#fee4a2 275px,#fddd9a 304px,#fddd99 495px)"></i><i style="height:3px;background:linear-gradient(90deg,#fffebf 0px,#fefdc0 228px,#fffcbd 237px,#fee4a2 277px,#fddd9a 309px,#fddd9a 495px)"></i><i style="height:3px;background:linear-gradient(90deg,#fffdbe 0px,#fefebf 228px,#fef6b6 246px,#fee3a1 282px,#fddd9a 321px,#fddd9a 495px)"></i><i style="height:3px;background:linear-gradient(90deg,#fffcbd 0px,#fffebf 228px,#fee3a1 285px,#fddd9a 330px,#fddd9a 495px)"></i><i style="height:3px;background:linear-gradient(90deg,#fffbbc 0px,#fffdbe 224px,#fee3a0 288px,#fdde9a 339px,#fdde9b 495px)"></i><i style="height:3px;background:linear-gradient(90deg,#fffbbb 0px,#fffdbe 217px,#fef1b1 253px,#fee3a1 288px,#fdde9b 340px,#fdde9b 495px)"></i><i style="height:3px;background:linear-gradient(90deg,#fffabb 0px,#fffcbd 214px,#fef1b1 252px,#fee4a1 288px,#fdde9b 342px,#fdde9b 495px)"></i><i style="height:3px;background:linear-gradient(90deg,#fff9ba 0px,#fffbbc 213px,#fef0b0 253px,#fee3a1 291px,#fddf9b 351px,#fddf9c 495px)"></i><i style="height:3px;background:linear-gradient(90deg,#fff8b9 0px,#fffabb 212px,#fef0b0 253px,#fee3a1 294px,#fddf9c 361px,#fddf9c 495px)"></i><i style="height:3px;background:linear-gradient(90deg,#fef8b8 0px,#fff9b9 212px,#feefaf 253px,#fee3a1 296px,#fddf9c 370px,#fddf9c 495px)"></i><i style="height:3px;background:linear-gradient(90deg,#fef7b7 0px,#fef8b8 212px,#feefae 253px,#fee3a1 299px,#fddf9c 384px,#fde09d 495px)"></i><i style="height:3px;background:linear-gradient(90deg,#fef6b6 0px,#fef7b7 212px,#feeeae 253px,#fee3a0 302px,#fde09d 400px,#fde09d 495px)"></i><i style="height:3px;background:linear-gradient(90deg,#fef5b5 0px,#fef6b6 212px,#feeead 252px,#fee3a0 304px,#fde09d 417px,#fde09d 495px)"></i><i style="height:3px;background:linear-gradient(90deg,#fef4b5 0px,#fef5b5 213px,#feedac 254px,#fee3a0 308px,#fde09e 457px,#fde09e 495px)"></i><i style="height:3px;background:linear-gradient(90deg,#fef4b4 0px,#fef4b4 214px,#fee9a7 270px,#fde29f 329px,#fde19e 495px)"></i><i style="height:3px;background:linear-gradient(90deg,#fef3b3 0px,#fef3b3 215px,#fee3a1 309px,#fde19e 495px)"></i><i style="height:3px;background:linear-gradient(90deg,#fef2b2 0px,#fef2b2 215px,#fee3a1 309px,#fde19f 495px)"></i><i style="height:3px;background:linear-gradient(90deg,#fef1b1 0px,#fef1b1 212px,#fee3a1 312px,#fde29f 495px)"></i><i style="height:3px;background:linear-gradient(90deg,#fef0af 0px,#fef0af 213px,#fee3a1 313px,#fde29f 495px)"></i><i style="height:3px;background:linear-gradient(90deg,#feefae 0px,#feeeae 216px,#fee3a1 313px,#fee2a0 495px)"></i><i style="height:3px;background:linear-gradient(90deg,#feeead 0px,#feedac 221px,#fee3a1 313px,#fee3a0 495px)"></i><i style="height:3px;background:linear-gradient(90deg,#feedac 0px,#feebaa 227px,#fee4a1 310px,#fee3a0 495px)"></i><i style="height:3px;background:linear-gradient(90deg,#feebaa 0px,#feeaa9 235px,#fee4a2 305px,#fee3a1 495px)"></i><i style="height:3px;background:linear-gradient(90deg,#feeaa9 0px,#fee9a7 246px,#fee4a2 298px,#fee3a1 495px)"></i><i style="height:3px;background:linear-gradient(90deg,#feeaa8 0px,#fee8a6 254px,#fee4a2 297px,#fee4a2 495px)"></i><i style="height:3px;background:linear-gradient(90deg,#fee9a7 0px,#fee7a5 258px,#fee4a2 313px,#fee4a2 495px)"></i><i style="height:3px;background:linear-gradient(90deg,#fee8a7 0px,#fee6a5 260px,#fee5a3 409px,#fee5a3 495px)"></i><i style="height:3px;background:linear-gradient(90deg,#fee8a7 0px,#fee6a5 262px,#fee5a3 495px)"></i><i style="height:3px;background:linear-gradient(90deg,#fee8a7 0px,#fee6a5 265px,#fee6a4 495px)"></i><i style="height:3px;background:linear-gradient(90deg,#fee8a7 0px,#fee6a4 495px)"></i><i style="height:3px;background:linear-gradient(90deg,#fee8a7 0px,#fee7a5 495px)"></i><i style="height:3px;background:linear-gradient(90deg,#fee8a7 0px,#fee7a5 495px)"></i><i style="height:1.5px;background:linear-gradient(90deg,#fee8a7 0px,#fee7a6 495px)"></i></div>
<div class="hm" style="left:670.5px;top:48px;width:496px;height:532.5px"><i style="height:3px;background:linear-gradient(90deg,#95c9e0 0px,#93c7df 63px,#7ab5d5 161px,#67a6ce 195px,#4b92c2 226px,#5196c5 239px,#67a7ce 268px,#8dc2dd 300px,#9ecfe4 324px,#aad8e8 358px,#b6dee3 428px,#b6dee3 495px)"></i><i style="height:3px;background:linear-gradient(90deg,#95c9e0 0px,#93c7df 63px,#7ab5d5 161px,#66a6cd 196px,#4b92c2 226px,#4f95c4 237px,#68a7ce 268px,#8cc2dd 299px,#9ecfe4 324px,#aad8e8 358px,#b6dee3 428px,#b6dee3 495px)"></i><i style="height:3px;background:linear-gradient(90deg,#95c8e0 0px,#93c7df 63px,#7ab5d5 162px,#66a6cd 196px,#4b92c2 227px,#5096c4 238px,#68a7ce 268px,#8cc2dd 299px,#9ed0e4 325px,#aad8e9 359px,#b6dee4 428px,#b6dee3 495px)"></i><i style="height:3px;background:linear-gradient(90deg,#95c8e0 0px,#92c7df 64px,#7bb5d6 161px,#67a6ce 196px,#4b92c3 228px,#5196c5 239px,#69a8cf 269px,#8cc2dd 299px,#9fd0e4 326px,#abd9e9 362px,#b6dee4 429px,#b6dee3 495px)"></i><i style="height:3px;background:linear-gradient(90deg,#94c8e0 0px,#92c6df 64px,#7bb5d6 161px,#67a7ce 196px,#4c92c3 228px,#4f95c4 237px,#6aa9cf 269px,#8cc2dd 299px,#a0d1e4 327px,#abd9e9 365px,#b5dee4 431px,#b6dee3 495px)"></i><i style="height:3px;background:linear-gradient(90deg,#94c8e0 0px,#92c6df 65px,#7bb6d6 161px,#67a6ce 197px,#4c93c3 229px,#5095c4 238px,#6aa9cf 269px,#8dc3dd 300px,#a1d1e5 329px,#addae8 373px,#b5dee4 434px,#b6dee3 495px)"></i><i style="height:3px;background:linear-gradient(90deg,#94c8e0 0px,#91c6df 66px,#7cb6d6 160px,#67a7ce 197px,#4c93c3 230px,#5297c5 240px,#6ba9cf 269px,#8dc3dd 299px,#9fd0e4 326px,#abd9e9 362px,#b5dde4 435px,#b6dee3 495px)"></i><i style="height:3px;background:linear-gradient(90deg,#94c8e0 0px,#91c5de 68px,#7cb6d6 159px,#67a7ce 197px,#4d94c3 230px,#5297c5 240px,#6baacf 269px,#8dc3dd 299px,#9fd0e4 325px,#aad8e9 358px,#b5dde4 436px,#b6dee3 495px)"></i><i style="height:3px;background:linear-gradient(90deg,#94c8e0 0px,#90c5de 69px,#7db7d7 156px,#69a8cf 195px,#4f95c4 229px,#5297c5 239px,#6aa9cf 268px,#8cc2dd 298px,#9ecfe4 323px,#a8d7e8 352px,#b5dde4 434px,#b6dee3 495px)"></i><i style="height:3px;background:linear-gradient(90deg,#94c8e0 0px,#90c5de 71px,#7fb8d7 153px,#6eacd0 189px,#5196c5 228px,#5398c6 239px,#6aa9cf 267px,#8dc3dd 298px,#9fd0e4 324px,#a9d8e8 355px,#b5dde4 437px,#b6dee3 495px)"></i><i style="height:3px;background:linear-gradient(90deg,#94c8e0 0px,#8fc5de 73px,#7fb9d7 151px,#70aed1 185px,#5297c5 227px,#5499c6 240px,#6aa9cf 267px,#8dc3dd 298px,#a0d1e5 326px,#abd9e9 365px,#b5dde4 446px,#b6dee3 495px)"></i><i style="height:3px;background:linear-gradient(90deg,#94c8e0 0px,#8fc4de 76px,#80b9d8 149px,#73afd2 181px,#5398c6 227px,#559ac7 241px,#6aa9cf 267px,#8ec4dd 299px,#a2d2e5 329px,#addae8 372px,#b5dde4 454px,#b6dee3 495px)"></i><i style="height:3px;background:linear-gradient(90deg,#94c8e0 0px,#8fc4de 78px,#81bad8 147px,#74b1d3 179px,#5499c6 227px,#569ac7 242px,#6caad0 268px,#8ec4dd 299px,#a2d2e5 329px,#addae8 372px,#b5dde4 458px,#b6dee3 495px)"></i><i style="height:3px;background:linear-gradient(90deg,#94c8e0 0px,#8ec4dd 81px,#81bad8 146px,#75b1d3 179px,#5499c6 228px,#579bc7 242px,#6baacf 267px,#8ec4de 299px,#a2d2e5 329px,#addae8 372px,#b5dde4 461px,#b6dee3 495px)"></i><i style="height:3px;background:linear-gradient(90deg,#94c8e0 0px,#8ec3dd 84px,#82bad8 146px,#75b1d3 179px,#5599c6 229px,#589bc8 243px,#6caad0 267px,#8fc4de 299px,#a2d2e5 328px,#addae8 371px,#b5dde4 463px,#b6dee3 495px)"></i><i style="height:3px;background:linear-gradient(90deg,#94c8e0 0px,#8ec3dd 86px,#82bbd9 145px,#75b1d3 179px,#5599c6 229px,#599cc8 243px,#6cabd0 267px,#8ec3dd 298px,#a0d1e5 325px,#acd9e9 365px,#b5dde4 456px,#b6dee3 495px)"></i><i style="height:3px;background:linear-gradient(90deg,#94c8e0 0px,#8ec3dd 88px,#82bbd9 145px,#76b2d4 179px,#569ac7 230px,#5b9ec9 245px,#6dabd0 267px,#8dc3dd 297px,#9fd0e4 323px,#aad8e8 355px,#b3dde5 432px,#b6dee3 495px)"></i><i style="height:3px;background:linear-gradient(90deg,#94c8e0 0px,#8dc3dd 91px,#82bbd9 146px,#76b1d4 180px,#579bc7 230px,#5c9fc9 246px,#6caad0 266px,#8ec4de 298px,#a2d2e5 327px,#addae8 371px,#b6dee4 474px,#b6dee3 495px)"></i><i style="height:3px;background:linear-gradient(90deg,#94c8e0 0px,#8dc3dd 93px,#83bbd9 146px,#76b2d4 180px,#599cc8 228px,#5c9ec9 243px,#68a8ce 262px,#90c5de 299px,#a3d3e6 330px,#addae8 372px,#b6dee4 481px,#b6dee3 495px)"></i><i style="height:3px;background:linear-gradient(90deg,#94c8e0 0px,#8dc3dd 94px,#83bbd9 146px,#76b2d4 181px,#5c9ec9 225px,#5c9ec9 241px,#67a6ce 260px,#90c5de 299px,#a4d4e6 331px,#addae8 372px,#b6dee3 486px,#b6dee3 495px)"></i><i style="height:3px;background:linear-gradient(90deg,#94c8e0 0px,#8dc3dd 95px,#83bbd9 147px,#76b1d4 182px,#5ea0ca 222px,#5d9fca 240px,#65a5cd 258px,#91c6df 300px,#a4d4e6 332px,#addae8 372px,#b6dee3 491px,#b6dee3 495px)"></i><i style="height:3px;background:linear-gradient(90deg,#94c8e0 0px,#8dc3dd 96px,#83bcd9 147px,#76b2d4 182px,#5fa1ca 221px,#5ea0ca 242px,#67a6ce 259px,#90c5de 299px,#a4d4e6 331px,#addae8 372px,#b6dee3 494px,#b6dee3 495px)"></i><i style="height:3px;background:linear-gradient(90deg,#94c8e0 0px,#8dc3dd 97px,#84bcd9 147px,#76b2d4 183px,#60a1cb 220px,#5fa1cb 244px,#67a7ce 259px,#91c6de 299px,#a4d4e6 331px,#addae8 372px,#b6dee3 495px)"></i><i style="height:3px;background:linear-gradient(90deg,#94c8e0 0px,#8dc3dd 97px,#84bcd9 147px,#76b2d4 184px,#60a2cb 220px,#60a2cb 246px,#69a8cf 261px,#90c5de 298px,#a4d4e6 330px,#addae8 371px,#b6dee3 495px)"></i><i style="height:3px;background:linear-gradient(90deg,#94c8e0 0px,#8ec3dd 97px,#84bcd9 148px,#76b2d4 185px,#61a2cb 220px,#61a2cb 248px,#6dabd0 264px,#90c5de 297px,#a3d3e6 328px,#addae8 370px,#b6dee3 495px)"></i><i style="height:3px;background:linear-gradient(90deg,#94c8e0 0px,#8ec3dd 98px,#84bcda 148px,#76b2d4 185px,#61a2cb 220px,#62a3cc 249px,#70aed1 267px,#90c5de 297px,#a4d4e6 329px,#addae8 370px,#b6dee3 495px)"></i><i style="height:3px;background:linear-gradient(90deg,#95c8e0 0px,#8ec3dd 99px,#85bdda 149px,#76b2d4 186px,#61a2cb 221px,#62a3cc 250px,#73b0d3 269px,#90c5de 297px,#a4d4e6 330px,#addae8 371px,#b6dee3 495px)"></i><i style="height:3px;background:linear-gradient(90deg,#95c9e0 0px,#8ec3dd 100px,#85bdda 150px,#76b2d4 187px,#62a3cb 221px,#63a4cc 250px,#74b0d3 269px,#91c5de 297px,#a4d4e6 330px,#addae8 370px,#b6dee3 495px)"></i><i style="height:3px;background:linear-gradient(90deg,#95c9e0 0px,#8ec3dd 102px,#85bdda 151px,#76b2d4 188px,#62a3cc 222px,#63a4cc 250px,#76b2d4 270px,#92c6df 298px,#a5d4e7 331px,#addae8 371px,#b6dee3 495px)"></i><i style="height:3px;background:linear-gradient(90deg,#95c9e0 0px,#8ec3dd 105px,#85bdda 152px,#75b1d3 190px,#62a3cc 223px,#63a4cc 249px,#74b0d3 268px,#90c5de 296px,#a4d4e6 329px,#addae8 370px,#b6dee3 495px)"></i><i style="height:3px;background:linear-gradient(90deg,#95c9e0 0px,#8dc3dd 108px,#85bdda 154px,#75b1d3 192px,#62a3cc 224px,#63a4cc 249px,#75b1d3 268px,#91c6de 296px,#a5d4e6 329px,#addae8 369px,#b6dee3 495px)"></i><i style="height:3px;background:linear-gradient(90deg,#96c9e0 0px,#8dc3dd 111px,#85bdda 155px,#75b1d3 193px,#62a3cc 225px,#63a4cc 249px,#76b2d4 269px,#92c6df 297px,#a5d5e7 330px,#addae8 370px,#b6dee3 495px)"></i><i style="height:3px;background:linear-gradient(90deg,#96c9e1 0px,#8dc3dd 115px,#84bcda 157px,#74b0d3 195px,#62a3cc 226px,#64a4cc 249px,#77b3d4 269px,#92c7df 297px,#a5d5e7 330px,#addae8 369px,#b6dee3 495px)"></i><i style="height:3px;background:linear-gradient(90deg,#96cae1 0px,#8dc3dd 118px,#85bdda 158px,#74b0d3 196px,#62a3cc 227px,#63a4cc 248px,#77b2d4 268px,#91c6df 295px,#a5d4e7 329px,#addae8 369px,#b6dee3 495px)"></i><i style="height:3px;background:linear-gradient(90deg,#97cae1 0px,#8dc3dd 120px,#84bcd9 160px,#74b0d3 197px,#62a3cc 228px,#64a4cc 248px,#77b3d4 268px,#92c6df 295px,#a5d5e7 329px,#addae8 369px,#b6dee3 495px)"></i><i style="height:3px;background:linear-gradient(90deg,#97cae1 0px,#8dc3dd 120px,#85bdda 160px,#74b0d3 198px,#62a3cc 230px,#64a5cd 248px,#78b3d5 268px,#91c6df 294px,#a5d4e7 328px,#addae8 368px,#b6dee3 495px)"></i><i style="height:3px;background:linear-gradient(90deg,#97cae1 0px,#8dc3dd 119px,#85bdda 161px,#73b0d3 200px,#62a3cc 232px,#65a5cd 248px,#79b4d5 268px,#92c6df 294px,#a5d5e7 328px,#addae8 368px,#b6dee3 495px)"></i><i style="height:3px;background:linear-gradient(90deg,#97cae1 0px,#8ec4dd 116px,#85bdda 161px,#73b0d3 201px,#63a3cc 233px,#66a6cd 248px,#78b4d5 267px,#91c5de 292px,#a5d4e7 327px,#addae8 367px,#b6dee3 495px)"></i><i style="height:3px;background:linear-gradient(90deg,#97cae1 0px,#8fc4de 113px,#86beda 161px,#73b0d3 202px,#63a4cc 234px,#68a7ce 249px,#78b3d5 266px,#90c5de 291px,#a5d4e6 326px,#addae8 367px,#b6dee3 495px)"></i><i style="height:3px;background:linear-gradient(90deg,#97cae1 0px,#8fc5de 109px,#86beda 162px,#73b0d3 203px,#65a5cd 235px,#6aa9cf 251px,#7bb6d6 268px,#93c7df 294px,#a5d5e7 327px,#addae8 367px,#b6dee3 495px)"></i><i style="height:3px;background:linear-gradient(90deg,#97cbe1 0px,#90c5de 106px,#86beda 163px,#73afd2 205px,#66a6cd 235px,#6dabd0 253px,#90c5de 289px,#a5d4e6 325px,#addae8 365px,#b6dee3 495px)"></i><i style="height:3px;background:linear-gradient(90deg,#98cbe1 0px,#91c6de 102px,#86beda 164px,#69a8ce 230px,#6baacf 248px,#76b1d4 262px,#8fc4de 287px,#a5d4e6 324px,#addae8 365px,#b6dee3 495px)"></i><i style="height:3px;background:linear-gradient(90deg,#98cbe1 0px,#91c6df 100px,#86beda 165px,#6aa9cf 228px,#6caad0 248px,#75b1d3 261px,#8fc4de 287px,#a5d4e6 324px,#addae8 365px,#b6dee3 495px)"></i><i style="height:3px;background:linear-gradient(90deg,#98cbe1 0px,#92c6df 99px,#87beda 166px,#6caad0 226px,#6dabd0 248px,#76b2d4 261px,#8fc5de 287px,#a5d4e7 324px,#addae8 365px,#b6dee3 495px)"></i><i style="height:3px;background:linear-gradient(90deg,#98cbe1 0px,#92c7df 98px,#87beda 167px,#6dabd0 226px,#6eacd0 250px,#7ab5d5 264px,#92c7df 290px,#a5d5e7 325px,#addae8 365px,#b6dee3 495px)"></i><i style="height:3px;background:linear-gradient(90deg,#98cbe1 0px,#92c7df 98px,#87beda 168px,#6dabd0 226px,#6facd1 250px,#7cb6d6 265px,#95c8e0 293px,#a6d5e7 326px,#addae8 365px,#b6dee3 495px)"></i><i style="height:3px;background:linear-gradient(90deg,#98cbe2 0px,#93c7df 99px,#87beda 170px,#6eacd0 226px,#6fadd1 251px,#93c7df 290px,#a5d5e7 324px,#addae8 364px,#b6dee3 495px)"></i><i style="height:3px;background:linear-gradient(90deg,#99cbe2 0px,#93c7df 100px,#87beda 171px,#6eacd1 227px,#70add1 251px,#93c7e0 290px,#a5d5e7 324px,#addae8 364px,#b6dee3 495px)"></i><i style="height:3px;background:linear-gradient(90deg,#99cce2 0px,#93c7df 101px,#87beda 172px,#6eacd1 228px,#70add1 250px,#94c8e0 291px,#a5d5e7 324px,#addae8 363px,#b6dee3 495px)"></i><i style="height:3px;background:linear-gradient(90deg,#99cce2 0px,#93c7df 102px,#87bedb 173px,#6facd1 229px,#71aed2 250px,#95c9e0 291px,#a6d5e7 324px,#addae8 363px,#b6dee3 495px)"></i><i style="height:3px;background:linear-gradient(90deg,#99cce2 0px,#93c7df 104px,#87bedb 174px,#6facd1 230px,#71aed2 249px,#96c9e1 292px,#a6d5e7 324px,#addae8 363px,#b6dee3 495px)"></i><i style="height:3px;background:linear-gradient(90deg,#99cce2 0px,#94c8e0 105px,#87beda 176px,#6facd1 232px,#71aed2 249px,#97cae1 293px,#a6d5e7 325px,#aedae8 363px,#b6dee3 495px)"></i><i style="height:3px;background:linear-gradient(90deg,#9acce2 0px,#94c8e0 107px,#87bedb 177px,#6fadd1 233px,#72afd2 249px,#97cae1 293px,#a6d5e7 325px,#aedae8 363px,#b6dee3 495px)"></i><i style="height:3px;background:linear-gradient(90deg,#9acce2 0px,#94c8e0 108px,#87bedb 178px,#6fadd1 235px,#73afd2 249px,#98cbe1 294px,#a6d5e7 325px,#aedae8 363px,#b6dee3 495px)"></i><i style="height:3px;background:linear-gradient(90deg,#9acde2 0px,#94c8e0 110px,#87bedb 180px,#70add1 236px,#74b0d3 249px,#99cbe2 294px,#a6d6e7 325px,#aedae8 362px,#b6dee3 495px)"></i><i style="height:3px;background:linear-gradient(90deg,#9acde2 0px,#94c8e0 111px,#87bedb 181px,#70aed1 237px,#76b2d4 251px,#99cce2 294px,#a6d6e7 325px,#aedae8 363px,#b6dee3 495px)"></i><i style="height:3px;background:linear-gradient(90deg,#9bcde2 0px,#95c8e0 112px,#87bfdb 182px,#72afd2 237px,#78b3d4 252px,#99cce2 294px,#a7d6e7 325px,#aedae8 362px,#b6dee3 495px)"></i><i style="height:3px;background:linear-gradient(90deg,#9bcde3 0px,#95c9e0 114px,#87bedb 184px,#73b0d3 235px,#78b3d5 251px,#9acde2 295px,#a7d6e7 325px,#aedae7 363px,#b6dee3 495px)"></i><i style="height:3px;background:linear-gradient(90deg,#9bcde3 0px,#95c9e0 115px,#87bfdb 185px,#75b1d3 232px,#78b3d5 249px,#8cc2dd 275px,#9dcfe3 300px,#a8d7e8 329px,#b0dbe7 376px,#b6dee3 495px)"></i><i style="height:3px;background:linear-gradient(90deg,#9ccee3 0px,#95c9e0 117px,#88bfdb 186px,#77b3d4 229px,#79b4d5 249px,#88bfdb 270px,#9bcde3 296px,#a7d6e7 326px,#aedbe7 364px,#b6dee3 495px)"></i><i style="height:3px;background:linear-gradient(90deg,#9ccee3 0px,#96c9e0 118px,#88bfdb 188px,#79b4d5 227px,#7ab5d5 249px,#87bedb 268px,#9acde2 294px,#a7d6e7 325px,#aedae7 363px,#b6dee3 495px)"></i><i style="height:3px;background:linear-gradient(90deg,#9ccee3 0px,#96c9e0 120px,#88bfdb 190px,#7ab4d5 226px,#7bb5d6 250px,#8ac1dc 271px,#9ccee3 296px,#a8d6e8 326px,#afdbe7 366px,#b6dee3 495px)"></i><i style="height:3px;background:linear-gradient(90deg,#9dcee3 0px,#96cae1 121px,#88bfdb 191px,#7ab5d5 226px,#7cb6d6 251px,#9bcde3 294px,#a7d6e8 325px,#afdbe7 363px,#b6dee3 495px)"></i><i style="height:3px;background:linear-gradient(90deg,#9dcfe3 0px,#96cae1 122px,#88bfdb 193px,#7bb5d6 227px,#7db7d6 252px,#9bcde3 294px,#a8d6e8 325px,#afdbe7 366px,#b6dee3 495px)"></i><i style="height:3px;background:linear-gradient(90deg,#9dcfe3 0px,#97cae1 123px,#88bfdb 194px,#7bb6d6 228px,#7eb7d7 253px,#9bcde3 293px,#a8d7e8 325px,#b0dbe7 369px,#b6dee3 495px)"></i><i style="height:3px;background:linear-gradient(90deg,#9ecfe4 0px,#97cae1 124px,#89c0db 195px,#7cb6d6 230px,#7eb8d7 253px,#9bcde2 292px,#a8d7e8 325px,#b1dce6 381px,#b6dee3 495px)"></i><i style="height:3px;background:linear-gradient(90deg,#9ecfe4 0px,#97cbe1 124px,#8ac0dc 195px,#7cb6d6 232px,#7eb8d7 252px,#9bcde3 292px,#a8d7e8 325px,#b1dce6 388px,#b6dee3 495px)"></i><i style="height:3px;background:linear-gradient(90deg,#9ed0e4 0px,#98cbe1 125px,#8ac1dc 196px,#7cb6d6 234px,#7fb8d7 252px,#9ccee3 293px,#a8d7e8 326px,#b1dce6 389px,#b6dee3 495px)"></i><i style="height:3px;background:linear-gradient(90deg,#9fd0e4 0px,#98cbe1 126px,#8bc1dc 196px,#7cb6d6 236px,#80b9d8 252px,#9ccee3 294px,#a9d8e8 328px,#b2dce6 393px,#b6dee3 495px)"></i><i style="height:3px;background:linear-gradient(90deg,#9fd0e4 0px,#99cbe2 126px,#8cc2dd 193px,#7db7d6 238px,#82bbd9 254px,#9ecfe4 296px,#abd9e9 334px,#b3dde5 412px,#b6dee3 495px)"></i><i style="height:3px;background:linear-gradient(90deg,#9fd0e4 0px,#99cce2 127px,#8dc3dd 193px,#7eb8d7 239px,#85bdda 256px,#a0d1e5 300px,#addae8 342px,#b5dde4 447px,#b6dee3 495px)"></i><i style="height:3px;background:linear-gradient(90deg,#a0d1e4 0px,#99cce2 128px,#8ec3dd 192px,#7fb9d7 239px,#88bfdb 259px,#a2d3e6 304px,#addae8 342px,#b5dde4 450px,#b6dee3 495px)"></i><i style="height:3px;background:linear-gradient(90deg,#a0d1e5 0px,#9acce2 130px,#8ec4dd 193px,#81bad8 239px,#8ac0dc 261px,#a3d3e6 306px,#addae8 341px,#b5dde4 447px,#b6dee3 495px)"></i><i style="height:3px;background:linear-gradient(90deg,#a1d1e5 0px,#9acce2 131px,#8fc4de 194px,#83bbd9 239px,#8bc1dc 262px,#a4d4e6 308px,#addae8 341px,#b5dde4 450px,#b6dee3 495px)"></i><i style="height:3px;background:linear-gradient(90deg,#a1d2e5 0px,#9acde2 132px,#90c5de 194px,#84bcd9 239px,#8cc2dc 262px,#a5d5e7 309px,#addae8 341px,#b5dde4 452px,#b6dee3 495px)"></i><i style="height:3px;background:linear-gradient(90deg,#a1d2e5 0px,#9bcde3 133px,#90c5de 196px,#85bdda 238px,#8bc2dc 260px,#a5d5e7 308px,#addae8 339px,#b5dde4 445px,#b6dee3 495px)"></i><i style="height:3px;background:linear-gradient(90deg,#a2d2e5 0px,#9bcde3 135px,#90c5de 197px,#86beda 237px,#8cc2dc 259px,#a6d5e7 308px,#addae8 338px,#b5dde4 444px,#b6dee3 495px)"></i><i style="height:3px;background:linear-gradient(90deg,#a2d3e6 0px,#9ccee3 137px,#91c5de 199px,#87bfdb 237px,#8cc2dd 258px,#a6d5e7 308px,#aedae8 338px,#b5dde4 446px,#b6dee3 495px)"></i><i style="height:3px;background:linear-gradient(90deg,#a3d3e6 0px,#9ccee3 138px,#91c6de 201px,#88bfdb 237px,#8dc3dd 258px,#a6d5e7 307px,#addae8 336px,#b5dde4 441px,#b6dee3 495px)"></i><i style="height:3px;background:linear-gradient(90deg,#a3d3e6 0px,#9ccee3 140px,#91c6df 203px,#89c0db 237px,#8dc3dd 257px,#a6d5e7 306px,#aedae8 335px,#b5dde4 440px,#b6dee3 495px)"></i><i style="height:3px;background:linear-gradient(90deg,#a4d4e6 0px,#9dcfe3 142px,#91c6df 205px,#89c0db 238px,#8ec4dd 257px,#a7d6e7 306px,#aedae8 335px,#b5dee4 443px,#b6dee3 495px)"></i><i style="height:3px;background:linear-gradient(90deg,#a4d4e6 0px,#9dcfe3 144px,#92c6df 207px,#8ac0dc 239px,#91c6df 260px,#a7d6e8 306px,#afdbe7 338px,#b6dee4 454px,#b6dee3 495px)"></i><i style="height:3px;background:linear-gradient(90deg,#a5d4e6 0px,#9ecfe4 146px,#92c6df 210px,#8bc1dc 240px,#96c9e0 267px,#a8d7e8 307px,#b1dce6 359px,#b6dee3 495px)"></i><i style="height:3px;background:linear-gradient(90deg,#a5d5e7 0px,#9ecfe4 149px,#92c7df 213px,#8cc2dd 241px,#9bcde3 276px,#abd9e9 313px,#b4dde5 385px,#b6dee3 495px)"></i><i style="height:3px;background:linear-gradient(90deg,#a6d5e7 0px,#9ed0e4 152px,#8ec4dd 241px,#9bcde3 274px,#abd9e9 311px,#b4dde5 381px,#b6dee3 495px)"></i><i style="height:3px;background:linear-gradient(90deg,#a6d6e7 0px,#9fd0e4 155px,#90c5de 241px,#9bcde3 272px,#abd9e9 309px,#b4dde5 378px,#b6dee3 495px)"></i><i style="height:3px;background:linear-gradient(90deg,#a7d6e7 0px,#9fd0e4 159px,#91c6df 241px,#9acde2 269px,#abd9e9 307px,#b4dde5 376px,#b6dee3 495px)"></i><i style="height:3px;background:linear-gradient(90deg,#a8d7e8 0px,#9fd0e4 162px,#92c7df 240px,#9acce2 266px,#abd9e9 305px,#b4dde5 373px,#b6dee3 495px)"></i><i style="height:3px;background:linear-gradient(90deg,#a8d7e8 0px,#a0d1e5 162px,#93c8e0 240px,#9acde2 265px,#abd9e9 304px,#b4dde4 374px,#b6dee3 495px)"></i><i style="height:3px;background:linear-gradient(90deg,#a9d8e8 0px,#a1d2e5 161px,#94c8e0 240px,#9acde2 263px,#acd9e9 302px,#b4dde4 372px,#b6dee3 495px)"></i><i style="height:3px;background:linear-gradient(90deg,#aad8e9 0px,#a2d2e5 160px,#95c9e0 240px,#9ccee3 263px,#acdae8 302px,#b5dde4 378px,#b7dee3 495px)"></i><i style="height:3px;background:linear-gradient(90deg,#aad9e9 0px,#a3d3e6 159px,#96cae1 240px,#9dcfe3 263px,#addae8 301px,#b5dee4 380px,#b7dee3 495px)"></i><i style="height:3px;background:linear-gradient(90deg,#abd9e9 0px,#a4d4e6 156px,#97cae1 240px,#9fd0e4 264px,#addae8 298px,#b5dee4 375px,#b7dee3 495px)"></i><i style="height:3px;background:linear-gradient(90deg,#acd9e9 0px,#a6d5e7 150px,#99cbe2 241px,#addae8 295px,#b5dee4 370px,#b7dee3 495px)"></i><i style="height:3px;background:linear-gradient(90deg,#acdae8 0px,#a7d6e7 147px,#9acde2 241px,#addae8 292px,#b6dee4 366px,#b7dee3 495px)"></i><i style="height:3px;background:linear-gradient(90deg,#addae8 0px,#a7d6e8 151px,#9ccee3 241px,#addae8 290px,#b6dee4 365px,#b8dfe3 495px)"></i><i style="height:3px;background:linear-gradient(90deg,#addae8 0px,#a8d7e8 158px,#9ecfe4 241px,#addae8 287px,#b6dee4 361px,#b8dfe2 495px)"></i><i style="height:3px;background:linear-gradient(90deg,#aedae8 0px,#a8d7e8 164px,#9fd0e4 241px,#addae8 284px,#b6dee3 356px,#b9dfe2 495px)"></i><i style="height:3px;background:linear-gradient(90deg,#aedae7 0px,#a9d7e8 170px,#a0d1e5 241px,#aad8e9 272px,#b4dde4 324px,#b9dfe2 459px,#b9dfe2 495px)"></i><i style="height:3px;background:linear-gradient(90deg,#afdbe7 0px,#a9d8e8 176px,#a2d2e5 241px,#aad9e9 270px,#b5dde4 326px,#bae0e2 495px)"></i><i style="height:3px;background:linear-gradient(90deg,#afdbe7 0px,#aad8e9 181px,#a3d3e6 242px,#addae8 275px,#b7dee3 344px,#bae0e1 495px)"></i><i style="height:3px;background:linear-gradient(90deg,#b0dbe6 0px,#abd9e9 187px,#a4d4e6 242px,#addae8 273px,#b7dee3 342px,#bbe0e1 495px)"></i><i style="height:3px;background:linear-gradient(90deg,#b1dce6 0px,#abd9e9 191px,#a6d5e7 243px,#aedae8 271px,#b8dfe3 340px,#bbe0e1 495px)"></i><i style="height:3px;background:linear-gradient(90deg,#b1dce6 0px,#acd9e9 194px,#a8d7e8 244px,#afdbe7 273px,#b8dfe2 344px,#bce0e1 495px)"></i><i style="height:3px;background:linear-gradient(90deg,#b2dce5 0px,#addae8 197px,#aad8e9 245px,#b7dee3 322px,#bce1e0 495px)"></i><i style="height:3px;background:linear-gradient(90deg,#b3dde5 0px,#addae8 199px,#acd9e9 248px,#b8dfe2 325px,#bde1e0 495px)"></i><i style="height:3px;background:linear-gradient(90deg,#b4dde5 0px,#addae8 249px,#b9dfe2 325px,#bde1e0 495px)"></i><i style="height:3px;background:linear-gradient(90deg,#b5dde4 0px,#aedae8 249px,#badfe2 324px,#bee1e0 495px)"></i><i style="height:3px;background:linear-gradient(90deg,#b6dee4 0px,#afdbe7 249px,#bae0e1 323px,#bfe2df 495px)"></i><i style="height:3px;background:linear-gradient(90deg,#b6dee3 0px,#b0dbe6 250px,#bbe0e1 322px,#bfe2df 495px)"></i><i style="height:3px;background:linear-gradient(90deg,#b7dee3 0px,#b1dce6 250px,#bce0e1 323px,#c0e2df 495px)"></i><i style="height:3px;background:linear-gradient(90deg,#b8dfe2 0px,#b2dce5 250px,#bde1e0 325px,#c0e2de 495px)"></i><i style="height:3px;background:linear-gradient(90deg,#b9dfe2 0px,#b4dde5 250px,#bee1e0 329px,#c1e3de 495px)"></i><i style="height:3px;background:linear-gradient(90deg,#bae0e1 0px,#b5dde4 251px,#bfe2df 332px,#c1e3de 495px)"></i><i style="height:3px;background:linear-gradient(90deg,#bbe0e1 0px,#b7dee3 252px,#bfe2df 333px,#c2e3de 495px)"></i><i style="height:3px;background:linear-gradient(90deg,#bce1e0 0px,#b8dfe3 253px,#c0e2de 332px,#c3e3dd 495px)"></i><i style="height:3px;background:linear-gradient(90deg,#bde1e0 0px,#b9dfe2 253px,#c1e3de 330px,#c3e4dd 495px)"></i><i style="height:3px;background:linear-gradient(90deg,#bee1df 0px,#bae0e1 253px,#c2e3de 329px,#c4e4dc 495px)"></i><i style="height:3px;background:linear-gradient(90deg,#bfe2df 0px,#bce0e1 253px,#c3e3dd 330px,#c5e4dc 495px)"></i><i style="height:3px;background:linear-gradient(90deg,#c1e3de 0px,#bde1e0 253px,#c4e4dd 334px,#c6e5dc 495px)"></i><i style="height:3px;background:linear-gradient(90deg,#c2e3de 0px,#bfe2df 254px,#c5e5dc 346px,#c7e5db 495px)"></i><i style="height:3px;background:linear-gradient(90deg,#c3e4dd 0px,#c0e2de 254px,#c7e5db 354px,#c8e6db 495px)"></i><i style="height:3px;background:linear-gradient(90deg,#c4e4dc 0px,#c1e3de 254px,#c8e6db 359px,#c9e6da 495px)"></i><i style="height:3px;background:linear-gradient(90deg,#c5e5dc 0px,#c3e3dd 255px,#c9e6da 363px,#cae7da 495px)"></i><i style="height:3px;background:linear-gradient(90deg,#c7e5db 0px,#c4e4dc 256px,#cae7da 367px,#cbe7d9 495px)"></i><i style="height:3px;background:linear-gradient(90deg,#c8e6db 0px,#c6e5dc 256px,#cbe7d9 370px,#cce7d9 495px)"></i><i style="height:3px;background:linear-gradient(90deg,#c9e6da 0px,#c7e5db 257px,#cce8d8 377px,#cde8d8 495px)"></i><i style="height:3px;background:linear-gradient(90deg,#cbe7d9 0px,#c9e6da 259px,#cde8d8 389px,#cee8d7 495px)"></i><i style="height:3px;background:linear-gradient(90deg,#cce7d9 0px,#cae7d9 260px,#cfe9d7 400px,#cfe9d7 495px)"></i><i style="height:3px;background:linear-gradient(90deg,#cde8d8 0px,#cce8d9 262px,#d0e9d7 415px,#d0e9d6 495px)"></i><i style="height:3px;background:linear-gradient(90deg,#cee9d7 0px,#cde8d8 263px,#d1ead6 423px,#d2ead6 495px)"></i><i style="height:3px;background:linear-gradient(90deg,#d0e9d7 0px,#cfe9d7 264px,#d2ead5 436px,#d3ebd5 495px)"></i><i style="height:3px;background:linear-gradient(90deg,#d1ead6 0px,#d1ead6 264px,#d4ebd5 459px,#d4ebd5 495px)"></i><i style="height:3px;background:linear-gradient(90deg,#d2ead5 0px,#d2ead5 264px,#d5ecd4 490px,#d5ecd4 495px)"></i><i style="height:3px;background:linear-gradient(90deg,#d4ebd5 0px,#d4ebd5 265px,#d7ecd3 495px)"></i><i style="height:3px;background:linear-gradient(90deg,#d5ecd4 0px,#d6ecd4 266px,#d8edd3 495px)"></i><i style="height:3px;background:linear-gradient(90deg,#d7ecd3 0px,#d7ecd3 268px,#d9edd2 495px)"></i><i style="height:3px;background:linear-gradient(90deg,#d8edd2 0px,#d9edd2 271px,#dbeed1 495px)"></i><i style="height:3px;background:linear-gradient(90deg,#daeed2 0px,#daeed1 274px,#dcefd0 495px)"></i><i style="height:3px;background:linear-gradient(90deg,#dbeed1 0px,#dcefd1 277px,#deefd0 495px)"></i><i style="height:3px;background:linear-gradient(90deg,#ddefd0 0px,#deefd0 279px,#dff0cf 495px)"></i><i style="height:3px;background:linear-gradient(90deg,#def0cf 0px,#dff0cf 282px,#e0f1ce 495px)"></i><i style="height:3px;background:linear-gradient(90deg,#e0f0cf 0px,#e1f1ce 285px,#e2f1ce 495px)"></i><i style="height:3px;background:linear-gradient(90deg,#e2f1ce 0px,#e2f1cd 291px,#e3f2cd 495px)"></i><i style="height:3px;background:linear-gradient(90deg,#e3f2cd 0px,#e4f2cd 296px,#e5f2cc 495px)"></i><i style="height:3px;background:linear-gradient(90deg,#e5f2cc 0px,#e5f3cc 299px,#e6f3cb 495px)"></i><i style="height:3px;background:linear-gradient(90deg,#e6f3cb 0px,#e7f3cb 302px,#e8f4cb 495px)"></i><i style="height:3px;background:linear-gradient(90deg,#e8f4cb 0px,#e9f4ca 305px,#e9f4ca 495px)"></i><i style="height:3px;background:linear-gradient(90deg,#e9f4ca 0px,#eaf5c9 495px)"></i><i style="height:3px;background:linear-gradient(90deg,#ebf5c9 0px,#ecf6c9 495px)"></i><i style="height:3px;background:linear-gradient(90deg,#ecf6c8 0px,#edf6c8 495px)"></i><i style="height:3px;background:linear-gradient(90deg,#eef6c8 0px,#eff7c7 495px)"></i><i style="height:3px;background:linear-gradient(90deg,#eff7c7 0px,#f0f7c6 495px)"></i><i style="height:3px;background:linear-gradient(90deg,#f1f8c6 0px,#f1f8c6 495px)"></i><i style="height:3px;background:linear-gradient(90deg,#f2f8c6 0px,#f3f9c5 495px)"></i><i style="height:3px;background:linear-gradient(90deg,#f3f9c5 0px,#f4f9c5 495px)"></i><i style="height:3px;background:linear-gradient(90deg,#f5f9c4 0px,#f5fac4 495px)"></i><i style="height:3px;background:linear-gradient(90deg,#f6fac4 0px,#f6fac3 495px)"></i><i style="height:3px;background:linear-gradient(90deg,#f7fbc3 0px,#f8fbc3 495px)"></i><i style="height:3px;background:linear-gradient(90deg,#f8fbc2 0px,#f9fbc2 495px)"></i><i style="height:3px;background:linear-gradient(90deg,#fafcc2 0px,#fafcc2 495px)"></i><i style="height:3px;background:linear-gradient(90deg,#fbfcc1 0px,#fbfcc1 495px)"></i><i style="height:3px;background:linear-gradient(90deg,#fcfdc0 0px,#fcfdc0 495px)"></i><i style="height:3px;background:linear-gradient(90deg,#fdfdc0 0px,#fdfdc0 495px)"></i><i style="height:3px;background:linear-gradient(90deg,#fefebf 0px,#fefebf 495px)"></i><i style="height:3px;background:linear-gradient(90deg,#fffdbe 0px,#fffdbe 495px)"></i><i style="height:3px;background:linear-gradient(90deg,#fffbbb 0px,#fffbbb 495px)"></i><i style="height:3px;background:linear-gradient(90deg,#fff8b9 0px,#fff8b9 495px)"></i><i style="height:3px;background:linear-gradient(90deg,#fef6b6 0px,#fef6b6 495px)"></i><i style="height:3px;background:linear-gradient(90deg,#fef4b4 0px,#fef4b4 495px)"></i><i style="height:3px;background:linear-gradient(90deg,#fef1b1 0px,#fef1b1 495px)"></i><i style="height:3px;background:linear-gradient(90deg,#feeead 0px,#feeead 495px)"></i><i style="height:3px;background:linear-gradient(90deg,#feebaa 0px,#feebaa 495px)"></i><i style="height:3px;background:linear-gradient(90deg,#fee9a8 0px,#fee9a8 495px)"></i><i style="height:3px;background:linear-gradient(90deg,#fee8a6 0px,#fee8a6 495px)"></i><i style="height:3px;background:linear-gradient(90deg,#fee7a6 0px,#fee7a6 495px)"></i><i style="height:3px;background:linear-gradient(90deg,#fee7a5 0px,#fee7a5 495px)"></i><i style="height:1.5px;background:linear-gradient(90deg,#fee7a5 0px,#fee7a5 495px)"></i></div>
<div class="hm" style="left:1247.5px;top:48px;width:496px;height:532.5px"><i style="height:3px;background:linear-gradient(90deg,#faaf67 0px,#faad65 169px,#f79e5a 227px,#f69657 246px,#f38a52 252px,#eb6743 263px,#e95c3e 270px,#e44c36 284px,#e03d2e 295px,#db2b26 402px,#d92723 426px,#d92623 495px)"></i><i style="height:3px;background:linear-gradient(90deg,#faaf67 0px,#faad65 170px,#f79e5b 225px,#f69758 245px,#f48d53 251px,#eb6743 263px,#e95c3e 270px,#e44c36 284px,#e03d2e 295px,#da2b26 404px,#d92724 434px,#d92723 495px)"></i><i style="height:3px;background:linear-gradient(90deg,#faaf67 0px,#faad65 171px,#f89f5b 222px,#f69758 245px,#f48c53 251px,#eb6643 263px,#e95b3e 270px,#e54d37 283px,#e03d2e 295px,#da2824 432px,#d92724 495px)"></i><i style="height:3px;background:linear-gradient(90deg,#faaf67 0px,#faad66 171px,#f8a05b 220px,#f69758 245px,#f38c53 251px,#eb6542 263px,#e95b3e 270px,#e44d37 283px,#e03d2e 295px,#da2924 434px,#d92724 495px)"></i><i style="height:3px;background:linear-gradient(90deg,#faaf67 0px,#faad65 172px,#f8a05b 219px,#f69758 245px,#f38c53 251px,#eb6743 262px,#e95d3e 268px,#e54f37 282px,#e03d2f 294px,#de382c 319px,#da2925 437px,#da2824 495px)"></i><i style="height:3px;background:linear-gradient(90deg,#faae67 0px,#faad65 172px,#f89f5b 220px,#f69757 245px,#f38c53 251px,#eb6643 262px,#e95c3e 268px,#e54e37 282px,#e03d2e 294px,#de382c 326px,#da2a25 438px,#da2824 495px)"></i><i style="height:3px;background:linear-gradient(90deg,#faae67 0px,#faac65 171px,#f79e5b 224px,#f69757 245px,#f38b53 251px,#eb6642 262px,#e95c3e 268px,#e54e37 282px,#e03d2e 294px,#dd342a 357px,#da2a25 439px,#da2924 495px)"></i><i style="height:3px;background:linear-gradient(90deg,#faae67 0px,#faac64 170px,#f79c5a 233px,#f59557 246px,#f38851 252px,#ec6844 261px,#e95d3f 267px,#e54e37 282px,#e03d2f 293px,#de392c 315px,#da2b25 442px,#da2924 495px)"></i><i style="height:3px;background:linear-gradient(90deg,#faae66 0px,#f9ab64 169px,#f69958 241px,#f59255 248px,#f1814e 254px,#eb6542 262px,#e95b3e 269px,#e54e37 282px,#e03d2f 293px,#de382c 319px,#da2b26 444px,#da2925 495px)"></i><i style="height:3px;background:linear-gradient(90deg,#faae66 0px,#f9ab63 168px,#f79b59 234px,#f59557 246px,#f28751 252px,#eb6542 262px,#e95b3d 269px,#e54e37 282px,#e03d2e 293px,#de382c 323px,#db2b26 446px,#da2a25 495px)"></i><i style="height:3px;background:linear-gradient(90deg,#faae66 0px,#f9ab63 167px,#f79d5a 226px,#f69657 244px,#f38c53 250px,#eb6542 262px,#e85b3d 269px,#e44d37 282px,#e03d2e 293px,#de382c 326px,#db2c26 450px,#da2a25 495px)"></i><i style="height:3px;background:linear-gradient(90deg,#faad66 0px,#f9aa63 166px,#f79e5b 222px,#f69657 244px,#f38b52 250px,#eb6542 262px,#e85a3d 270px,#e44d36 282px,#e03d2e 293px,#de372c 330px,#db2c26 454px,#da2a25 495px)"></i><i style="height:3px;background:linear-gradient(90deg,#faad66 0px,#f9aa62 165px,#f79f5b 219px,#f69758 243px,#f48d53 249px,#eb6542 262px,#e85a3d 270px,#e44c36 282px,#e03d2e 293px,#de372b 335px,#db2c26 460px,#da2a25 495px)"></i><i style="height:3px;background:linear-gradient(90deg,#faad65 0px,#f9aa62 164px,#f89f5b 217px,#f69758 243px,#f48d53 249px,#eb6542 262px,#e85a3d 270px,#e44c36 282px,#e03d2e 293px,#de362b 341px,#db2b26 472px,#da2a25 495px)"></i><i style="height:3px;background:linear-gradient(90deg,#faad65 0px,#f9a962 163px,#f89f5b 216px,#f69758 243px,#f48d53 249px,#eb6542 262px,#e85a3d 270px,#e44c36 282px,#e03d2e 293px,#de362b 345px,#da2b25 490px,#da2a25 495px)"></i><i style="height:3px;background:linear-gradient(90deg,#faad65 0px,#f9a961 162px,#f89f5b 216px,#f69758 243px,#f48d53 249px,#eb6542 262px,#e85a3d 270px,#e44c36 282px,#e03d2e 293px,#de362b 348px,#da2b25 495px)"></i><i style="height:3px;background:linear-gradient(90deg,#faac65 0px,#f9a961 162px,#f89f5b 216px,#f69758 243px,#f48d53 249px,#eb6442 262px,#e85a3d 270px,#e44c36 282px,#e03d2e 293px,#de362b 349px,#da2b25 495px)"></i><i style="height:3px;background:linear-gradient(90deg,#faac65 0px,#f9a961 162px,#f79e5b 219px,#f69757 243px,#f48d53 249px,#eb6442 262px,#e8593d 270px,#e44c36 282px,#e03d2e 293px,#de362b 350px,#db2b26 495px)"></i><i style="height:3px;background:linear-gradient(90deg,#faac64 0px,#f9a861 161px,#f79e5b 219px,#f69757 243px,#f48d53 249px,#eb6642 261px,#e85b3d 268px,#e54d37 281px,#e03d2e 293px,#de362b 349px,#db2c26 495px)"></i><i style="height:3px;background:linear-gradient(90deg,#faac64 0px,#f9a860 161px,#f79d5a 223px,#f69757 243px,#f38c53 249px,#eb6542 261px,#e85b3d 268px,#e54d37 281px,#e03d2e 293px,#de362b 349px,#db2c26 495px)"></i><i style="height:3px;background:linear-gradient(90deg,#faac64 0px,#f9a860 161px,#f79c5a 228px,#f69657 243px,#f38b53 249px,#eb6442 261px,#e85b3d 268px,#e54d37 281px,#e03d2e 293px,#de362b 348px,#db2d26 495px)"></i><i style="height:3px;background:linear-gradient(90deg,#f9ab64 0px,#f9a860 161px,#f79a59 234px,#f59557 244px,#f28751 250px,#eb6643 260px,#e95c3e 266px,#e54f37 280px,#e03d2e 293px,#de362b 347px,#db2d27 495px)"></i><i style="height:3px;background:linear-gradient(90deg,#f9ab63 0px,#f9a760 162px,#f69958 238px,#f59356 245px,#f1834f 251px,#eb6542 260px,#e95b3e 267px,#e54f37 280px,#e03d2e 293px,#de362b 347px,#db2e27 495px)"></i><i style="height:3px;background:linear-gradient(90deg,#f9ab63 0px,#f9a75f 162px,#f69958 238px,#f59255 245px,#f07e4d 252px,#eb6542 260px,#e95b3e 267px,#e54f37 280px,#e03d2e 293px,#de372b 346px,#db2e27 495px)"></i><i style="height:3px;background:linear-gradient(90deg,#f9ab63 0px,#f9a75f 162px,#f69958 238px,#f59255 245px,#f07e4d 252px,#eb6542 260px,#e85a3d 268px,#e54d37 281px,#e03d2e 293px,#de372b 345px,#dc2f27 495px)"></i><i style="height:3px;background:linear-gradient(90deg,#f9ab63 0px,#f9a75f 163px,#f69858 239px,#f48f54 246px,#eb6542 260px,#e85a3d 268px,#e54d37 281px,#e03d2e 293px,#de372b 345px,#dc2f27 495px)"></i><i style="height:3px;background:linear-gradient(90deg,#f9aa63 0px,#f9a75f 164px,#f69858 239px,#f48f54 246px,#eb6542 260px,#e85a3d 268px,#e54d37 281px,#e03d2e 293px,#de372c 344px,#dc2f28 495px)"></i><i style="height:3px;background:linear-gradient(90deg,#f9aa62 0px,#f9a65f 164px,#f69858 239px,#f48f54 246px,#eb6542 260px,#e85a3d 268px,#e54d37 281px,#e03d2e 293px,#de372c 344px,#dc3028 495px)"></i><i style="height:3px;background:linear-gradient(90deg,#f9aa62 0px,#f9a65e 165px,#f69858 240px,#f48f54 246px,#eb6542 260px,#e85a3d 268px,#e54d37 281px,#e03d2e 293px,#de372c 343px,#dc3028 495px)"></i><i style="height:3px;background:linear-gradient(90deg,#f9aa62 0px,#f9a65e 166px,#f69758 240px,#f48f54 246px,#eb6542 260px,#e85a3d 268px,#e54d37 281px,#e03d2e 293px,#de372c 343px,#dc3028 495px)"></i><i style="height:3px;background:linear-gradient(90deg,#f9aa62 0px,#f9a65e 168px,#f69758 240px,#f48f54 246px,#eb6542 260px,#e85a3d 268px,#e54d37 281px,#e03d2e 293px,#de382c 343px,#dc3128 495px)"></i><i style="height:3px;background:linear-gradient(90deg,#f9a962 0px,#f9a65e 168px,#f69758 240px,#f48f54 246px,#eb6743 259px,#e95c3e 266px,#e54f37 280px,#e03d2e 293px,#de382c 342px,#dc3129 495px)"></i><i style="height:3px;background:linear-gradient(90deg,#f9a961 0px,#f9a55e 168px,#f69858 239px,#f48e54 246px,#eb6643 259px,#e95c3e 266px,#e54f37 280px,#e03d2e 293px,#de382c 342px,#dc3129 495px)"></i><i style="height:3px;background:linear-gradient(90deg,#f9a961 0px,#f9a55e 169px,#f69758 239px,#f48f54 245px,#eb6642 259px,#e95b3e 267px,#e54f37 280px,#e03d2e 293px,#de382c 342px,#dc3229 495px)"></i><i style="height:3px;background:linear-gradient(90deg,#f9a961 0px,#f9a55e 169px,#f69858 238px,#f48e54 245px,#ec6743 258px,#e95c3e 266px,#e54f37 280px,#e03d2e 293px,#de382c 341px,#dc3229 495px)"></i><i style="height:3px;background:linear-gradient(90deg,#f9a961 0px,#f9a55e 170px,#f69858 238px,#f49054 244px,#eb6743 258px,#e95c3e 266px,#e54f37 280px,#e03d2e 293px,#de382c 341px,#dd3229 495px)"></i><i style="height:3px;background:linear-gradient(90deg,#f9a961 0px,#f9a55d 171px,#f69858 238px,#f48f54 244px,#eb6643 258px,#e95c3e 266px,#e54f37 280px,#e03d2e 293px,#de382c 341px,#dd3329 495px)"></i><i style="height:3px;background:linear-gradient(90deg,#f9a860 0px,#f9a55d 172px,#f69858 238px,#f48f54 244px,#eb6643 258px,#e95b3e 266px,#e54f37 280px,#e03d2e 293px,#de382c 341px,#dd3329 495px)"></i><i style="height:3px;background:linear-gradient(90deg,#f9a860 0px,#f9a55d 174px,#f69858 238px,#f48f54 244px,#eb6542 258px,#e95b3e 266px,#e54f37 280px,#e03d2e 293px,#de382c 340px,#dd332a 495px)"></i><i style="height:3px;background:linear-gradient(90deg,#f9a860 0px,#f9a45d 175px,#f69758 238px,#f48f54 244px,#eb6542 258px,#e95b3d 266px,#e54f37 280px,#e03d2e 293px,#de382c 340px,#dd332a 495px)"></i><i style="height:3px;background:linear-gradient(90deg,#f9a860 0px,#f9a45d 177px,#f69758 238px,#f48f54 244px,#eb6542 258px,#e85b3d 266px,#e54f37 280px,#e03d2e 293px,#de382c 340px,#dd342a 495px)"></i><i style="height:3px;background:linear-gradient(90deg,#f9a860 0px,#f9a45d 179px,#f69758 238px,#f48f54 244px,#eb6743 257px,#e95c3e 264px,#e55038 279px,#e03d2e 293px,#de392c 339px,#dd342a 495px)"></i><i style="height:3px;background:linear-gradient(90deg,#f9a760 0px,#f9a45d 182px,#f69758 238px,#f48e54 244px,#eb6643 257px,#e95c3e 264px,#e55038 279px,#e03d2e 293px,#de392c 339px,#dd342a 495px)"></i><i style="height:3px;background:linear-gradient(90deg,#f9a75f 0px,#f9a45d 185px,#f69757 238px,#f48d53 244px,#ec6843 256px,#e95d3f 263px,#e55038 279px,#e03d2e 293px,#df392c 339px,#dd342a 495px)"></i><i style="height:3px;background:linear-gradient(90deg,#f9a75f 0px,#f9a45d 188px,#f69657 238px,#f38c53 244px,#ec6743 256px,#e95d3e 263px,#e55038 279px,#e03d2e 293px,#df392c 338px,#dd352a 495px)"></i><i style="height:3px;background:linear-gradient(90deg,#f9a75f 0px,#f9a45d 190px,#f69758 237px,#f48e54 243px,#eb6743 256px,#e95c3e 264px,#e55038 279px,#e03d2e 293px,#df392d 337px,#dd352a 495px)"></i><i style="height:3px;background:linear-gradient(90deg,#f9a75f 0px,#f9a45d 191px,#f69757 237px,#f48d53 243px,#ec6944 255px,#e95d3e 263px,#e55038 279px,#e03d2e 293px,#df392d 334px,#dd352b 495px)"></i><i style="height:3px;background:linear-gradient(90deg,#f9a75f 0px,#f9a45d 191px,#f69757 237px,#f48d53 243px,#ec6944 255px,#e95d3e 263px,#e55038 279px,#e03d2e 293px,#df392d 331px,#dd352b 495px)"></i><i style="height:3px;background:linear-gradient(90deg,#f9a65e 0px,#f9a45d 190px,#f69757 237px,#f48d53 243px,#ec6944 255px,#e95d3e 263px,#e54f38 280px,#e03d2e 293px,#df3a2d 327px,#de352b 495px)"></i><i style="height:3px;background:linear-gradient(90deg,#f9a65e 0px,#f9a45d 188px,#f69757 237px,#f48d53 243px,#ec6844 255px,#e95d3e 263px,#e55038 280px,#e03d2f 293px,#df3a2d 322px,#de362b 495px)"></i><i style="height:3px;background:linear-gradient(90deg,#f9a65e 0px,#f8a35d 186px,#f69757 237px,#f48c53 243px,#ec6844 255px,#e95d3e 263px,#e55038 280px,#e03d2f 293px,#df3a2d 316px,#de362b 495px)"></i><i style="height:3px;background:linear-gradient(90deg,#f9a65e 0px,#f8a35d 184px,#f69758 236px,#f48e54 242px,#ec6843 255px,#e95d3e 263px,#e55138 280px,#e03d2e 294px,#df392d 341px,#de362b 495px)"></i><i style="height:3px;background:linear-gradient(90deg,#f9a55e 0px,#f8a35d 182px,#f69758 236px,#f48e54 242px,#ec6a44 254px,#e95e3f 262px,#e65138 280px,#e03d2f 294px,#df3a2d 322px,#de362b 495px)"></i><i style="height:3px;background:linear-gradient(90deg,#f9a55e 0px,#f8a25c 180px,#f69758 235px,#f48f54 241px,#ec6944 254px,#e95e3f 262px,#e65139 280px,#e03d2f 294px,#df3a2d 316px,#de372b 495px)"></i><i style="height:3px;background:linear-gradient(90deg,#f9a55d 0px,#f8a25c 179px,#f69758 235px,#f48e54 241px,#ec6b45 253px,#e95d3f 262px,#e55038 281px,#e03d2e 295px,#df392d 345px,#de372b 495px)"></i><i style="height:3px;background:linear-gradient(90deg,#f9a55d 0px,#f8a15c 178px,#f69757 235px,#f48d53 241px,#ec6a44 253px,#e95d3f 262px,#e55038 281px,#e03d2e 295px,#df3a2d 332px,#de372b 495px)"></i><i style="height:3px;background:linear-gradient(90deg,#f9a45d 0px,#f8a15c 178px,#f69758 234px,#f48f54 240px,#ec6a44 253px,#e95d3f 262px,#e65138 281px,#e03d2f 295px,#df3a2d 325px,#de372c 495px)"></i><i style="height:3px;background:linear-gradient(90deg,#f9a45d 0px,#f8a15c 177px,#f69758 234px,#f48f54 240px,#ec6a44 253px,#e95d3f 262px,#e65139 281px,#e03d2f 295px,#df3a2d 318px,#de372c 495px)"></i><i style="height:3px;background:linear-gradient(90deg,#f8a45d 0px,#f8a05c 177px,#f69758 234px,#f48f54 240px,#ec6a44 253px,#e95d3f 262px,#e55138 282px,#e03d2e 296px,#df3a2d 337px,#de382c 495px)"></i><i style="height:3px;background:linear-gradient(90deg,#f8a35d 0px,#f8a05b 177px,#f69758 234px,#f48f54 240px,#ec6944 253px,#e95d3f 262px,#e65139 282px,#e03d2f 296px,#df3a2d 318px,#de382c 495px)"></i><i style="height:3px;background:linear-gradient(90deg,#f8a35d 0px,#f8a05b 177px,#f69758 234px,#f48f54 240px,#ec6944 253px,#e95d3f 262px,#e65239 282px,#e03d2f 297px,#df3a2d 323px,#de382c 495px)"></i><i style="height:3px;background:linear-gradient(90deg,#f8a35d 0px,#f89f5b 177px,#f69758 234px,#f48f54 240px,#ec6b45 252px,#e95e3f 261px,#e65139 283px,#e03d2f 298px,#df3a2d 327px,#de382c 495px)"></i><i style="height:3px;background:linear-gradient(90deg,#f8a25c 0px,#f79f5b 178px,#f69757 234px,#f48e54 240px,#ec6b45 252px,#e95e3f 261px,#e55138 284px,#e03d2f 299px,#df3a2d 330px,#de382c 495px)"></i><i style="height:3px;background:linear-gradient(90deg,#f8a25c 0px,#f79f5b 178px,#f69758 233px,#f48f54 239px,#ec6a44 252px,#e95d3f 262px,#e65139 284px,#e03d2f 300px,#df3a2d 331px,#de392c 495px)"></i><i style="height:3px;background:linear-gradient(90deg,#f8a25c 0px,#f79e5b 179px,#f69757 233px,#f48e54 239px,#ec6b45 251px,#e95e3f 261px,#e65139 285px,#e03d2f 301px,#df3a2d 329px,#de392c 495px)"></i><i style="height:3px;background:linear-gradient(90deg,#f8a25c 0px,#f79e5a 180px,#f69757 233px,#f48d53 239px,#ec6b45 251px,#e95e3f 261px,#e65138 286px,#e03d2e 303px,#df3a2d 354px,#df392c 495px)"></i><i style="height:3px;background:linear-gradient(90deg,#f8a15c 0px,#f79d5a 181px,#f69758 232px,#f48f54 238px,#ec6b45 251px,#e95e3f 261px,#e65138 287px,#e03d2f 304px,#df3a2d 332px,#df392d 495px)"></i><i style="height:3px;background:linear-gradient(90deg,#f8a15c 0px,#f79d5a 182px,#f69758 232px,#f48f54 238px,#ec6a44 251px,#e95e3f 261px,#e65139 288px,#e03d2f 306px,#df3b2d 336px,#df392d 495px)"></i><i style="height:3px;background:linear-gradient(90deg,#f8a15c 0px,#f79d5a 184px,#f69758 232px,#f48f54 238px,#ec6a44 251px,#e95e3f 261px,#e65139 289px,#e03d2f 309px,#df3a2d 359px,#df392d 495px)"></i><i style="height:3px;background:linear-gradient(90deg,#f8a05c 0px,#f79c5a 185px,#f69758 232px,#f48f54 238px,#ed6c45 250px,#ea5f3f 260px,#e65138 291px,#e03e2f 311px,#df3b2d 346px,#df3a2d 495px)"></i><i style="height:3px;background:linear-gradient(90deg,#f8a05b 0px,#f79c5a 187px,#f69758 232px,#f48f54 238px,#ed6c45 250px,#ea5f3f 260px,#e55038 293px,#e03e2f 314px,#df3b2d 347px,#df3a2d 495px)"></i><i style="height:3px;background:linear-gradient(90deg,#f8a05b 0px,#f79c5a 189px,#f69757 232px,#f48e54 238px,#ed6c45 250px,#ea5f40 260px,#e55038 295px,#e03f2f 317px,#df3b2d 347px,#df3a2d 495px)"></i><i style="height:3px;background:linear-gradient(90deg,#f89f5b 0px,#f79b59 191px,#f69657 232px,#f48d53 238px,#ed6c45 250px,#ea5f3f 261px,#e55038 297px,#e03f2f 322px,#df3b2d 358px,#df3a2d 495px)"></i><i style="height:3px;background:linear-gradient(90deg,#f89f5b 0px,#f79b59 194px,#f69757 231px,#f48c53 238px,#ed6c45 250px,#ea5f3f 261px,#e55038 300px,#e03f30 327px,#df3b2d 368px,#df3a2d 495px)"></i><i style="height:3px;background:linear-gradient(90deg,#f79f5b 0px,#f79b59 196px,#f69757 231px,#f38c53 238px,#ed6c45 250px,#ea5e3f 262px,#e55038 303px,#e14030 333px,#df3b2e 377px,#df3b2d 495px)"></i><i style="height:3px;background:linear-gradient(90deg,#f79f5b 0px,#f79a59 199px,#f69657 231px,#f38b53 238px,#ed6c45 250px,#ea5e3f 262px,#e54f38 307px,#e14030 341px,#df3c2e 394px,#df3b2e 495px)"></i><i style="height:3px;background:linear-gradient(90deg,#f79e5b 0px,#f69a59 203px,#f69657 231px,#f38b53 238px,#ed6c45 250px,#ea5f3f 262px,#e54e37 313px,#e14130 351px,#e03d2e 436px,#df3c2e 495px)"></i><i style="height:3px;background:linear-gradient(90deg,#f79e5b 0px,#f69a59 206px,#f69657 231px,#f38b53 238px,#ed6e46 249px,#ea5f40 261px,#e44d36 323px,#e14231 365px,#e03e2f 495px)"></i><i style="height:3px;background:linear-gradient(90deg,#f79e5a 0px,#f69959 211px,#f69657 231px,#f38b53 238px,#ed6e46 249px,#ea6040 261px,#e7573b 293px,#e24432 368px,#e14030 495px)"></i><i style="height:3px;background:linear-gradient(90deg,#f79d5a 0px,#f69958 215px,#f59557 232px,#f38951 239px,#ed6e46 249px,#ea6040 261px,#e8583c 289px,#e34733 378px,#e24332 495px)"></i><i style="height:3px;background:linear-gradient(90deg,#f79d5a 0px,#f69958 221px,#f59557 232px,#f38951 239px,#ed6e46 249px,#ea6040 261px,#e8593d 285px,#e34935 387px,#e34733 495px)"></i><i style="height:3px;background:linear-gradient(90deg,#f79d5a 0px,#f69858 225px,#f59356 234px,#f2834f 241px,#ed6d45 250px,#ea5e3f 264px,#e7543a 325px,#e44c36 402px,#e44a35 495px)"></i><i style="height:3px;background:linear-gradient(90deg,#f79d5a 0px,#f69858 226px,#f59356 234px,#f2834f 241px,#ed6d45 250px,#ea5f3f 264px,#e7563b 313px,#e54f37 416px,#e44d37 495px)"></i><i style="height:3px;background:linear-gradient(90deg,#f79c5a 0px,#f69858 227px,#f59255 235px,#ed6d46 250px,#ea5f40 264px,#e8583c 304px,#e65239 426px,#e55038 495px)"></i><i style="height:3px;background:linear-gradient(90deg,#f79c5a 0px,#f69858 228px,#f49055 236px,#ed6e46 250px,#ea5f40 264px,#e8593c 296px,#e6533a 426px,#e65239 495px)"></i><i style="height:3px;background:linear-gradient(90deg,#f79c5a 0px,#f69758 229px,#f49155 236px,#ed6d45 251px,#e95e3f 267px,#e7563b 332px,#e7543a 495px)"></i><i style="height:3px;background:linear-gradient(90deg,#f79b59 0px,#f69758 230px,#f49055 237px,#ed6d46 251px,#ea5f40 266px,#e8593c 303px,#e7553b 468px,#e7553b 495px)"></i><i style="height:3px;background:linear-gradient(90deg,#f79b59 0px,#f69758 230px,#f49155 237px,#ed6e46 251px,#ea6040 265px,#e85b3d 287px,#e7563b 402px,#e7563b 495px)"></i><i style="height:3px;background:linear-gradient(90deg,#f79b59 0px,#f69758 231px,#f48f54 238px,#ed6d46 252px,#ea5f40 268px,#e8593d 305px,#e7563b 495px)"></i><i style="height:3px;background:linear-gradient(90deg,#f79b59 0px,#f69757 232px,#f48e54 239px,#ed6e46 252px,#ea6040 267px,#e95b3d 290px,#e7573b 426px,#e7573b 495px)"></i><i style="height:3px;background:linear-gradient(90deg,#f69a59 0px,#f69657 233px,#f48d53 240px,#ed6f46 252px,#eb6341 264px,#e95c3e 282px,#e7573c 411px,#e7573c 495px)"></i><i style="height:3px;background:linear-gradient(90deg,#f69a59 0px,#f69657 233px,#f48e54 240px,#ed6e46 253px,#ea6241 267px,#e95c3e 286px,#e8583c 434px,#e8583c 495px)"></i><i style="height:3px;background:linear-gradient(90deg,#f69a59 0px,#f69657 234px,#f48d53 241px,#ed6f47 253px,#eb6442 265px,#e95c3e 284px,#e8583c 432px,#e8583c 495px)"></i><i style="height:3px;background:linear-gradient(90deg,#f69959 0px,#f69657 234px,#f48e54 241px,#ed6f46 254px,#eb6442 267px,#e95c3e 287px,#e8593c 459px,#e8593c 495px)"></i><i style="height:3px;background:linear-gradient(90deg,#f69959 0px,#f69657 235px,#f48d53 242px,#ed6e46 255px,#eb6341 270px,#e95c3e 292px,#e8593d 495px)"></i><i style="height:3px;background:linear-gradient(90deg,#f69958 0px,#f69657 236px,#f38c53 243px,#ed7047 255px,#eb6642 267px,#e95d3e 291px,#e8593d 495px)"></i><i style="height:3px;background:linear-gradient(90deg,#f69958 0px,#f69657 236px,#f48d53 243px,#ed6f47 256px,#eb6542 269px,#e95d3e 294px,#e85a3d 495px)"></i><i style="height:3px;background:linear-gradient(90deg,#f69858 0px,#f69657 236px,#f48c53 244px,#ed6f47 257px,#eb6642 270px,#e95d3f 297px,#e85a3d 495px)"></i><i style="height:3px;background:linear-gradient(90deg,#f69858 0px,#f59557 236px,#f48d53 244px,#ed6f47 258px,#eb6643 272px,#e95d3f 302px,#e85b3d 495px)"></i><i style="height:3px;background:linear-gradient(90deg,#f69858 0px,#f59557 234px,#f48e54 244px,#ed6e46 260px,#eb6341 281px,#e95d3e 317px,#e95b3e 495px)"></i><i style="height:3px;background:linear-gradient(90deg,#f69858 0px,#f59557 231px,#f48e54 244px,#f07e4d 253px,#ed6e46 262px,#ea6241 289px,#e95d3e 338px,#e95c3e 495px)"></i><i style="height:3px;background:linear-gradient(90deg,#f69858 0px,#f59557 230px,#f48d53 245px,#f17f4d 254px,#ed6e46 263px,#eb6542 284px,#e95e3f 328px,#e95c3e 495px)"></i><i style="height:3px;background:linear-gradient(90deg,#f69858 0px,#f59557 229px,#f38c53 247px,#f07d4d 256px,#ed6e46 265px,#eb6542 289px,#ea5e3f 340px,#e95d3f 495px)"></i><i style="height:3px;background:linear-gradient(90deg,#f69858 0px,#f59657 228px,#f38c53 248px,#f17f4d 257px,#ed6f46 266px,#ec6743 283px,#ea6040 339px,#ea5e3f 495px)"></i><i style="height:3px;background:linear-gradient(90deg,#f69958 0px,#f69657 227px,#f38c53 249px,#f1804e 258px,#ed6f47 268px,#ec6843 285px,#ea6140 346px,#ea6040 495px)"></i><i style="height:3px;background:linear-gradient(90deg,#f69959 0px,#f69757 227px,#f38c53 251px,#f07e4d 261px,#ed6f46 271px,#ec6743 293px,#ea6241 366px,#ea6140 495px)"></i><i style="height:3px;background:linear-gradient(90deg,#f69a59 0px,#f69758 226px,#f48d53 252px,#f1804e 262px,#ed7047 273px,#ec6944 292px,#eb6341 371px,#eb6341 495px)"></i><i style="height:3px;background:linear-gradient(90deg,#f79b59 0px,#f69858 225px,#f48d53 253px,#f1814e 264px,#ed7047 276px,#ec6944 297px,#eb6542 396px,#eb6442 495px)"></i><i style="height:3px;background:linear-gradient(90deg,#f79b59 0px,#f69958 225px,#f48e54 255px,#f1814e 267px,#ee7147 280px,#ec6a44 305px,#eb6643 434px,#eb6643 495px)"></i><i style="height:3px;background:linear-gradient(90deg,#f79c5a 0px,#f69a59 225px,#f48f54 256px,#f1814e 270px,#ee7248 284px,#ec6b45 309px,#ec6843 442px,#ec6843 495px)"></i><i style="height:3px;background:linear-gradient(90deg,#f79d5a 0px,#f79b59 226px,#f48f54 258px,#ee7348 290px,#ed6c45 318px,#ec6944 467px,#ec6944 495px)"></i><i style="height:3px;background:linear-gradient(90deg,#f79e5a 0px,#f79c5a 227px,#f49054 261px,#ef7549 297px,#ed6e46 332px,#ec6b45 495px)"></i><i style="height:3px;background:linear-gradient(90deg,#f79e5b 0px,#f79d5a 228px,#f49055 264px,#ef784a 305px,#ed7047 359px,#ed6e46 495px)"></i><i style="height:3px;background:linear-gradient(90deg,#f89f5b 0px,#f79e5a 230px,#f49055 269px,#f07d4c 310px,#ee7449 375px,#ee7348 495px)"></i><i style="height:3px;background:linear-gradient(90deg,#f8a05b 0px,#f79f5b 232px,#f48f54 277px,#f1824e 316px,#f07a4b 380px,#ef794b 495px)"></i><i style="height:3px;background:linear-gradient(90deg,#f8a15c 0px,#f8a05b 234px,#f38851 314px,#f1814e 382px,#f17f4d 495px)"></i><i style="height:3px;background:linear-gradient(90deg,#f8a25c 0px,#f8a15c 236px,#f48d53 312px,#f28751 388px,#f28550 495px)"></i><i style="height:3px;background:linear-gradient(90deg,#f8a35d 0px,#f8a35d 197px,#f8a35d 237px,#f49055 312px,#f38b53 398px,#f38a52 495px)"></i><i style="height:3px;background:linear-gradient(90deg,#f8a35d 0px,#f8a35d 195px,#f9a55e 235px,#f59356 314px,#f48f54 413px,#f48e54 495px)"></i><i style="height:3px;background:linear-gradient(90deg,#f9a45d 0px,#f9a45d 193px,#f9a65e 236px,#f69657 318px,#f59256 440px,#f59255 495px)"></i><i style="height:3px;background:linear-gradient(90deg,#f9a65e 0px,#f9a45d 187px,#f9a860 235px,#f69858 326px,#f59557 495px)"></i><i style="height:3px;background:linear-gradient(90deg,#f9a75f 0px,#f9a55d 182px,#f9a961 236px,#f79b59 332px,#f69858 495px)"></i><i style="height:3px;background:linear-gradient(90deg,#f9a860 0px,#f9a65e 184px,#f9aa63 235px,#f79e5b 333px,#f79b59 495px)"></i><i style="height:3px;background:linear-gradient(90deg,#f9a961 0px,#f9a75f 161px,#f9a961 205px,#faac64 236px,#f8a15c 326px,#f79e5b 495px)"></i><i style="height:3px;background:linear-gradient(90deg,#f9ab63 0px,#f9a861 145px,#f9ab63 204px,#faad66 234px,#f9a45d 334px,#f8a15c 495px)"></i><i style="height:3px;background:linear-gradient(90deg,#faac65 0px,#f9ab63 161px,#faad66 206px,#faae67 241px,#f9a65e 345px,#f9a45d 495px)"></i><i style="height:3px;background:linear-gradient(90deg,#faae67 0px,#faae66 194px,#fab069 235px,#f9a860 345px,#f9a75f 495px)"></i><i style="height:3px;background:linear-gradient(90deg,#fab169 0px,#fab16a 243px,#f9aa62 347px,#f9a961 495px)"></i><i style="height:3px;background:linear-gradient(90deg,#fab36c 0px,#fab36c 240px,#faac64 345px,#f9ab63 495px)"></i><i style="height:3px;background:linear-gradient(90deg,#fab56e 0px,#fab56e 237px,#faae66 342px,#faad65 495px)"></i><i style="height:3px;background:linear-gradient(90deg,#fbb770 0px,#fbb770 234px,#fab068 338px,#faae67 495px)"></i><i style="height:3px;background:linear-gradient(90deg,#fbb972 0px,#fbb872 232px,#fab26b 331px,#fab069 495px)"></i><i style="height:3px;background:linear-gradient(90deg,#fbbb74 0px,#fbba74 230px,#fab46d 324px,#fab26b 495px)"></i><i style="height:3px;background:linear-gradient(90deg,#fbbd76 0px,#fbbc76 229px,#fab66f 320px,#fab46d 495px)"></i><i style="height:3px;background:linear-gradient(90deg,#fbbf78 0px,#fbbe77 230px,#fbb871 320px,#fab66f 495px)"></i><i style="height:3px;background:linear-gradient(90deg,#fbc07a 0px,#fbc079 230px,#fbba73 324px,#fbb871 495px)"></i><i style="height:3px;background:linear-gradient(90deg,#fcc27c 0px,#fbc17b 231px,#fbbc75 327px,#fbba74 495px)"></i><i style="height:3px;background:linear-gradient(90deg,#fcc47e 0px,#fcc37d 233px,#fbbe77 332px,#fbbd76 495px)"></i><i style="height:3px;background:linear-gradient(90deg,#fcc680 0px,#fcc57f 235px,#fbc07a 339px,#fbbf79 495px)"></i><i style="height:3px;background:linear-gradient(90deg,#fcc882 0px,#fcc681 237px,#fcc27c 349px,#fbc17b 495px)"></i><i style="height:3px;background:linear-gradient(90deg,#fcca84 0px,#fcc882 240px,#fcc47e 367px,#fcc37d 495px)"></i><i style="height:3px;background:linear-gradient(90deg,#fccb86 0px,#fcca84 244px,#fcc680 412px,#fcc680 495px)"></i><i style="height:3px;background:linear-gradient(90deg,#fdcd88 0px,#fccc86 248px,#fcc882 452px,#fcc882 495px)"></i><i style="height:3px;background:linear-gradient(90deg,#fdcf8a 0px,#fdcd88 253px,#fcca85 495px)"></i><i style="height:3px;background:linear-gradient(90deg,#fdd18c 0px,#fdcf8a 258px,#fdcd87 495px)"></i><i style="height:3px;background:linear-gradient(90deg,#fdd28e 0px,#fdd18b 268px,#fdcf8a 495px)"></i><i style="height:3px;background:linear-gradient(90deg,#fdd48f 0px,#fdd18c 495px)"></i><i style="height:3px;background:linear-gradient(90deg,#fdd591 0px,#fdd38e 495px)"></i><i style="height:3px;background:linear-gradient(90deg,#fdd692 0px,#fdd590 495px)"></i><i style="height:3px;background:linear-gradient(90deg,#fdd893 0px,#fdd692 495px)"></i><i style="height:3px;background:linear-gradient(90deg,#fdd995 0px,#fdd894 495px)"></i><i style="height:3px;background:linear-gradient(90deg,#fdd995 0px,#fdd995 495px)"></i><i style="height:3px;background:linear-gradient(90deg,#fdda96 0px,#fdda96 495px)"></i><i style="height:3px;background:linear-gradient(90deg,#fddb97 0px,#fdda97 495px)"></i><i style="height:3px;background:linear-gradient(90deg,#fddb98 0px,#fddb98 495px)"></i><i style="height:3px;background:linear-gradient(90deg,#fddc99 0px,#fddc98 495px)"></i><i style="height:3px;background:linear-gradient(90deg,#fddd9a 0px,#fddd99 495px)"></i><i style="height:3px;background:linear-gradient(90deg,#fdde9a 0px,#fddd9a 495px)"></i><i style="height:3px;background:linear-gradient(90deg,#fdde9b 0px,#fdde9b 495px)"></i><i style="height:3px;background:linear-gradient(90deg,#fddf9c 0px,#fddf9c 495px)"></i><i style="height:3px;background:linear-gradient(90deg,#fde09d 0px,#fddf9c 495px)"></i><i style="height:3px;background:linear-gradient(90deg,#fde09d 0px,#fde09d 495px)"></i><i style="height:3px;background:linear-gradient(90deg,#fde19e 0px,#fde19e 495px)"></i><i style="height:3px;background:linear-gradient(90deg,#fde29f 0px,#fde19f 495px)"></i><i style="height:3px;background:linear-gradient(90deg,#fee2a0 0px,#fee2a0 495px)"></i><i style="height:3px;background:linear-gradient(90deg,#fee3a1 0px,#fee3a0 495px)"></i><i style="height:3px;background:linear-gradient(90deg,#fee4a1 0px,#fee4a1 495px)"></i><i style="height:3px;background:linear-gradient(90deg,#fee4a2 0px,#fee4a2 495px)"></i><i style="height:3px;background:linear-gradient(90deg,#fee5a3 0px,#fee5a3 495px)"></i><i style="height:3px;background:linear-gradient(90deg,#fee6a4 0px,#fee6a4 495px)"></i><i style="height:3px;background:linear-gradient(90deg,#fee6a4 0px,#fee6a4 495px)"></i><i style="height:3px;background:linear-gradient(90deg,#fee7a5 0px,#fee7a5 495px)"></i><i style="height:3px;background:linear-gradient(90deg,#fee8a6 0px,#fee8a6 495px)"></i><i style="height:3px;background:linear-gradient(90deg,#fee8a7 0px,#fee8a7 495px)"></i><i style="height:3px;background:linear-gradient(90deg,#fee9a7 0px,#fee9a7 495px)"></i><i style="height:3px;background:linear-gradient(90deg,#fee9a8 0px,#fee9a8 495px)"></i><i style="height:3px;background:linear-gradient(90deg,#feeaa8 0px,#feeaa8 495px)"></i><i style="height:1.5px;background:linear-gradient(90deg,#feeaa9 0px,#feeaa9 495px)"></i></div>
<div class="hm" style="left:1773.7px;top:73.4px;width:60.5px;height:494.6px;background:linear-gradient(180deg,#d92623 0.12%,#dc3229 1.16%,#e03d2f 2.20%,#e34934 3.25%,#e7543a 4.29%,#ea6040 5.33%,#ed6e46 6.37%,#f07c4c 7.41%,#f38a52 8.45%,#f69858 9.49%,#f9a65e 10.53%,#faaf67 11.58%,#fbb871 12.62%,#fbc07a 13.66%,#fcc984 14.70%,#fdd28d 15.74%,#fdd894 16.78%,#fddf9c 17.82%,#fee5a3 18.86%,#feecab 19.90%,#fef2b2 20.95%,#fef7b7 21.99%,#fffbbc 23.03%,#fefebf 24.07%,#fcfdc1 25.11%,#f9fbc2 26.15%,#f7fac3 27.19%,#f5f9c4 28.23%,#f2f8c5 29.28%,#f0f7c7 30.32%,#edf6c8 31.36%,#ebf5c9 32.40%,#e9f4ca 33.44%,#e6f3cb 34.48%,#e4f2cd 35.52%,#e2f1ce 36.56%,#dff0cf 37.61%,#ddefd0 38.65%,#daeed1 39.69%,#d8edd2 40.73%,#d6ecd4 41.77%,#d3ebd5 42.81%,#d1ead6 43.85%,#cfe9d7 44.89%,#cce8d8 45.94%,#cae7da 46.98%,#c7e6db 48.02%,#c5e4dc 49.06%,#c3e3dd 50.10%,#c0e2de 51.14%,#bee1e0 52.18%,#bce0e1 53.22%,#b9dfe2 54.27%,#b7dee3 55.31%,#b4dde4 56.35%,#b2dce5 57.39%,#b0dbe7 58.43%,#addae8 59.47%,#abd9e9 60.51%,#a8d7e8 61.55%,#a4d4e6 62.60%,#a1d2e5 63.64%,#9ecfe4 64.68%,#9acde2 65.72%,#97cae1 66.76%,#94c8e0 67.80%,#90c5de 68.84%,#8dc3dd 69.88%,#8ac0dc 70.93%,#86beda 71.97%,#83bbd9 73.01%,#80b9d8 74.05%,#7cb6d6 75.09%,#79b4d5 76.13%,#76b1d4 77.17%,#72afd2 78.21%,#6facd1 79.26%,#6caad0 80.30%,#68a8ce 81.34%,#65a5cd 82.38%,#61a3cb 83.42%,#5ea0ca 84.46%,#5b9ec9 85.50%,#579bc7 86.54%,#5499c6 87.59%,#5196c5 88.63%,#4d94c3 89.67%,#4a91c2 90.71%,#478fc1 91.75%,#438cbf 92.79%,#408abe 93.83%,#3d87bd 94.87%,#3985bb 95.92%,#3682ba 96.96%,#3380b9 98.00%,#2f7db7 99.04%,#2c7bb6 100.00%)"></div>
<svg width="1950" height="689" viewBox="0 0 1950 689">
<g fill="none" stroke="#000" stroke-width="2.2" stroke-linejoin="round" stroke-linecap="butt">
<path d="M304.8 48.0L314.2 110.4L315.4 114.6L317.2 118.9L319.3 122.4L320.6 123.6L321.1 123.7L321.9 122.7L323.5 116.9L326.0 105.3L327.8 94.2L330.5 48.0"/>
<path d="M292.0 48.0L307.0 155.6L314.1 188.7L314.8 190.3L316.3 192.3L318.3 193.8L319.5 194.2L320.6 193.9L321.0 193.4L323.2 187.1L327.3 170.4L328.4 162.8L331.0 130.0L334.4 48.0"/>
<path d="M275.2 48.0L281.8 91.5L289.7 155.0L293.7 178.3L298.1 200.7L300.5 211.9L304.6 227.9L310.7 248.0L313.1 254.0L315.1 258.1L316.6 259.3L318.7 259.9L319.7 259.7L320.6 259.1L322.5 254.7L326.4 241.4L327.6 235.8L328.0 232.1L329.5 206.6L331.5 180.0L332.8 150.0L334.6 128.3L337.7 48.0"/>
<path d="M247.6 48.0L261.4 125.4L279.3 218.7L283.2 236.7L290.4 261.4L306.9 310.9L308.3 313.5L313.0 318.7L314.9 320.0L316.4 319.6L319.0 318.1L321.1 316.4L321.8 315.4L323.1 310.0L326.5 300.0L328.6 289.2L330.0 279.0L333.8 219.1L337.5 149.4L338.5 125.0L340.6 48.0"/>
<path d="M191.7 48.0L244.3 228.3L249.3 244.1L253.8 256.7L264.5 283.5L278.4 320.7L281.9 328.5L297.3 353.7L301.3 359.8L305.0 363.7L308.9 367.3L312.0 368.8L314.6 369.3L315.9 369.0L318.4 367.7L321.6 365.2L323.2 361.7L327.0 350.9L333.6 302.7L341.0 144.6L343.5 48.0"/>
<path d="M97.5 151.5L125.0 190.0L155.4 234.3L164.3 246.9L193.4 285.7L233.6 337.9L241.2 347.3L250.7 358.2L268.1 374.6L289.2 396.3L298.7 405.1L302.7 408.1L308.4 410.9L312.0 411.4L315.0 411.0L318.6 408.8L321.1 406.4L324.2 400.4L327.8 392.0L330.1 384.9L331.5 379.4L335.0 354.9L338.2 297.7L341.2 230.0L344.7 132.7L345.3 97.0L346.8 48.0"/>
<path d="M97.8 362.6L193.8 398.8"/>
<path d="M241.2 420.1L271.8 434.8L281.2 438.9L292.5 442.8L305.3 446.4L310.2 447.3L312.8 447.1L316.1 445.9L319.2 444.3L321.2 442.8L323.9 438.9L327.3 432.7L330.5 423.5L332.1 417.4L333.5 410.2L335.6 394.5L339.6 350.0L342.1 307.6L347.7 140.1L348.2 97.0L349.7 48.0"/>
<path d="M97.2 459.4L166.1 466.0"/>
<path d="M218.6 472.2L277.8 482.8L290.0 484.2L305.1 486.5L309.7 486.8L314.4 485.8L319.0 483.9L322.7 481.0L326.0 477.7L327.7 475.5L329.1 472.7L333.5 461.0L336.3 450.9L337.9 443.5L340.0 423.2L342.9 376.2L346.5 307.6L351.1 176.9L352.0 127.6L352.9 48.0"/>
<path d="M357.7 48.0L356.2 97.0L355.8 130.0L354.9 164.1L352.7 233.9L348.8 400.0L346.7 443.3L343.3 540.5L342.8 572.1L343.0 576.1L343.5 577.9L344.4 578.8L345.8 579.1L354.4 576.1L357.4 575.4L371.3 574.6L392.6 573.9L589.0 573.4"/>
<path d="M364.2 48.0L363.1 97.0L360.1 164.1L358.3 217.8L356.6 321.0L356.6 375.6L357.1 410.2L358.2 429.0L361.0 444.7L362.3 449.7L363.4 453.0L366.7 459.3L369.3 463.3L371.1 464.9L373.7 466.2L378.6 467.8L382.2 468.6L390.2 469.0L403.2 467.3L419.5 464.6L456.1 457.4"/>
<path d="M500.0 449.9L548.0 443.3L589.0 438.8"/>
<path d="M379.5 48.0L375.6 100.2L371.9 161.6L369.3 219.9L368.2 254.5L367.7 283.5L368.2 329.7L369.4 347.6L371.4 364.8L373.6 373.2L376.1 380.2L378.2 384.7L379.4 386.4L380.9 387.7L382.7 388.5L384.7 388.7L390.1 387.5L395.9 385.7L401.5 383.6L404.3 382.1L412.9 374.7L426.3 361.4"/>
<path d="M453.9 328.9L485.3 288.1L507.4 255.5L537.7 207.7L589.0 124.0"/>
<path d="M885.5 48.0L889.6 66.2L895.0 86.3L897.6 93.2L899.7 97.6L901.4 99.6L903.1 100.2L905.0 99.2L907.7 96.1L909.4 92.7L910.5 88.7L911.5 81.6L914.6 48.0"/>
<path d="M871.9 48.0L883.4 109.5L886.4 122.2L889.6 133.9L893.6 145.3L898.5 155.5L903.1 162.0L905.0 163.6L907.0 164.2L909.2 163.7L912.6 161.0L915.7 157.1L917.6 153.1L919.2 140.0L925.8 105.5L935.0 48.0"/>
<path d="M854.2 48.0L860.0 83.2L864.7 107.8L870.0 129.2L876.2 150.3L882.7 169.2L885.8 177.4L889.1 184.9L894.1 195.1L904.8 214.0L906.0 215.9L907.3 216.5L910.4 216.2L912.2 215.1L914.2 212.7L916.4 208.3L919.9 199.7L922.7 191.5L925.5 182.0L929.1 167.6L933.5 146.5L937.7 120.5L941.3 91.6L946.0 48.0"/>
<path d="M826.0 48.0L837.1 95.1L846.8 130.2L856.3 160.5L864.0 181.9L870.6 199.1L881.1 224.2L884.6 231.4L887.9 237.0L892.4 243.2L898.8 250.2L904.4 257.3L906.7 259.0L909.1 259.3L913.1 258.5L916.3 256.9L919.2 254.0L920.7 251.5L922.0 248.5L923.6 243.1L927.7 224.8L937.8 174.4L944.0 145.8L946.5 131.7L949.7 106.8L955.7 48.0"/>
<path d="M765.4 48.0L788.2 97.7L800.6 123.8L807.8 137.9L826.7 173.4L844.2 211.1L848.5 220.0L852.9 228.0L857.3 235.0L861.9 241.2L879.0 262.0L893.4 283.0L897.3 288.1L901.4 292.6L904.0 294.6L906.4 295.6L909.2 295.9L912.1 295.4L914.0 294.5L918.0 291.6L922.0 286.8L925.9 280.3L929.8 272.1L932.6 264.6L936.3 252.6L939.7 238.9L943.5 220.4L950.0 178.6L957.1 145.8L959.6 131.7L962.6 106.8L967.7 48.0"/>
<path d="M673.6 153.7L708.0 176.5L726.5 189.7L774.5 228.0L818.0 260.5L840.6 278.1L879.0 309.0L896.1 323.9L900.5 326.4L904.0 327.3L909.2 327.2L914.0 326.2L918.0 324.5L924.5 320.2L927.3 317.6L930.5 313.5L937.7 301.6L944.4 288.9L948.8 278.5L951.0 271.5L953.3 260.2L957.8 228.0L967.4 182.8L971.0 162.4L973.6 145.8L977.4 113.9L983.4 48.0"/>
<path d="M673.6 293.5L728.9 302.8L753.7 307.5L772.6 312.0L821.9 324.9L834.4 328.3L845.1 331.7L886.4 348.8L893.9 351.5L901.0 353.4L908.9 354.5L914.1 354.1L919.3 352.1L925.4 348.2L929.5 344.8L932.3 341.9L941.0 330.0L949.8 320.3L953.8 315.2L964.1 299.1L969.8 289.1L974.8 278.5L977.2 271.4L979.1 263.9L980.5 256.2L983.8 232.0L998.2 136.6L1002.0 106.8L1008.7 48.0"/>
<path d="M674.2 351.7L718.5 354.0L748.4 356.0L797.4 360.3L840.0 364.8L853.6 367.0L864.1 370.4L888.5 377.0L896.9 378.8L903.2 379.6L913.4 379.2L919.0 377.5L926.6 373.2L937.8 365.0L961.1 346.1L976.3 332.8L998.3 311.9L1010.3 299.3L1017.5 290.4L1023.0 281.7L1028.7 270.3L1036.8 251.7L1039.5 244.6L1041.8 237.0L1045.5 220.8L1048.1 204.6L1055.8 150.1L1057.9 131.7L1059.4 113.9L1063.6 48.0"/>
<path d="M674.2 386.9L766.9 389.7L821.9 392.3L847.6 394.2L872.1 397.6L898.4 400.7L907.9 401.4L914.6 401.5L918.2 400.8L925.0 398.4L942.5 390.1L961.5 381.6L989.8 370.6L997.4 368.1L1005.4 366.1L1033.6 361.2"/>
<path d="M1085.4 351.8L1162.5 342.4"/>
<path d="M674.2 412.8L790.0 415.5L840.0 416.2L855.7 417.1L901.0 421.1L912.5 421.4L916.4 421.0L921.8 419.7L942.5 413.2L961.5 409.0L981.7 405.9L1014.5 402.5L1029.4 401.3L1054.4 400.1L1163.0 396.6"/>
<path d="M674.2 435.0L790.0 436.5L840.0 436.2L852.8 436.7L895.6 439.5L913.6 440.1L923.4 439.1L944.5 435.3L968.3 432.0L986.4 430.4L1017.7 428.5L1054.4 427.5L1163.0 426.8"/>
<path d="M674.1 455.0L840.0 455.7L864.2 456.2L883.5 457.1L912.0 457.5L922.2 456.9L934.0 455.0L949.8 453.4L961.9 452.5L976.5 451.9L1040.1 450.4L1163.0 449.8"/>
<path d="M674.0 473.8L840.0 473.9L920.1 475.7L925.6 475.4L929.2 474.5L932.8 474.1L954.2 472.8L990.9 471.4L1038.2 471.0L1163.0 470.7"/>
<path d="M674.0 492.1L840.0 491.9L865.6 492.3L912.7 494.0L917.2 493.9L920.0 493.3L923.8 492.9L948.8 491.8L990.5 490.6L1038.9 490.4L1163.0 490.8"/>
<path d="M674.0 511.2L840.0 511.4L903.4 512.8L922.6 512.6L971.6 511.0L1000.0 510.5L1163.0 510.9"/>
<path d="M674.0 534.2L840.0 534.0L913.1 535.4L979.7 534.0"/>
<path d="M1032.5 534.2L1162.9 533.9"/>
<path d="M1250.4 498.1L1380.9 497.3L1442.5 497.3L1472.9 497.7L1520.0 499.5L1570.6 500.2"/>
<path d="M1613.4 500.2L1739.3 500.2"/>
<path d="M1250.4 439.9L1409.4 438.6L1464.0 438.8L1469.6 439.1L1478.3 440.6L1503.1 446.3L1513.2 448.2L1528.3 450.1L1542.7 451.2L1567.6 452.0L1611.5 452.8L1739.9 453.7"/>
<path d="M1502.1 48.0L1496.1 155.3L1490.9 233.7L1488.3 269.3L1487.7 289.9L1488.2 300.8L1489.2 311.3L1491.5 326.6L1494.0 339.2L1496.5 348.0L1499.5 355.8L1503.0 363.0L1507.0 369.4L1511.5 375.1L1514.8 378.4L1518.2 381.2L1523.7 384.7L1529.8 387.5L1538.9 390.6L1545.8 392.3L1553.3 393.5L1584.6 396.1L1626.1 397.8L1665.8 398.6L1739.4 399.0"/>
<path d="M1527.5 48.0L1525.1 133.2L1525.1 158.1L1525.8 183.8L1526.8 206.2L1528.0 218.2L1531.8 241.9L1533.5 248.6L1535.6 254.6L1540.0 264.0L1542.8 268.7L1546.0 272.9L1548.9 276.0L1553.6 280.0L1557.6 283.0L1562.3 285.7L1568.0 288.3L1572.6 289.9L1589.5 294.2L1606.2 297.4L1623.0 299.0"/>
<path d="M1665.6 300.6L1739.9 301.8"/>
<path d="M1250.6 52.2L1283.0 48.6"/>
</g>
<g fill="none" stroke="#000" stroke-width="1.8">
<rect x="93.1" y="48" width="495.9" height="536.4"/>
<path d="M217.07 584.4V569.4M341.05 584.4V569.4M465.02 584.4V569.4M155.09 584.4V576.8M279.06 584.4V576.8M403.04 584.4V576.8M527.01 584.4V576.8M93.1 464.89H108.1M93.1 345.78H108.1M93.1 226.67H108.1M93.1 107.56H108.1M93.1 524.44H100.7M93.1 405.33H100.7M93.1 286.22H100.7M93.1 167.11H100.7"/>
<rect x="670.5" y="48" width="495.5" height="536.4"/>
<path d="M794.38 584.4V569.4M918.25 584.4V569.4M1042.12 584.4V569.4M732.44 584.4V576.8M856.31 584.4V576.8M980.19 584.4V576.8M1104.06 584.4V576.8"/>
<rect x="1247.5" y="48" width="495.5" height="536.4"/>
<path d="M1371.38 584.4V569.4M1495.25 584.4V569.4M1619.12 584.4V569.4M1309.44 584.4V576.8M1433.31 584.4V576.8M1557.19 584.4V576.8M1681.06 584.4V576.8"/>
<rect x="1773.7" y="73.4" width="60.5" height="494.6"/>
<path d="M1834.2 177.00H1819.2M1834.2 280.00H1819.2M1834.2 383.00H1819.2M1834.2 486.00H1819.2"/>
</g>
<g font-family="'Liberation Sans', Arial, Helvetica, sans-serif" font-size="33" fill="#000" stroke="#000" stroke-width="0.25">
<text x="91.3" y="623.4" text-anchor="middle">−40</text>
<text x="215.3" y="623.4" text-anchor="middle">−20</text>
<text x="344.9" y="623.4" text-anchor="middle">0</text>
<text x="469.1" y="623.4" text-anchor="middle">20</text>
<text x="593.0" y="623.4" text-anchor="middle">40</text>
<text x="670.0" y="623.4" text-anchor="middle">−40</text>
<text x="793.9" y="623.4" text-anchor="middle">−20</text>
<text x="922.1" y="623.4" text-anchor="middle">0</text>
<text x="1044.7" y="623.4" text-anchor="middle">20</text>
<text x="1168.5" y="623.4" text-anchor="middle">40</text>
<text x="1247.0" y="623.4" text-anchor="middle">−40</text>
<text x="1370.9" y="623.4" text-anchor="middle">−20</text>
<text x="1499.2" y="623.4" text-anchor="middle">0</text>
<text x="1621.7" y="623.4" text-anchor="middle">20</text>
<text x="1745.5" y="623.4" text-anchor="middle">40</text>
<text x="82.3" y="597.4" text-anchor="end">0</text>
<text x="82.3" y="478.3" text-anchor="end">2</text>
<text x="82.3" y="359.2" text-anchor="end">4</text>
<text x="82.3" y="240.1" text-anchor="end">6</text>
<text x="82.3" y="121.0" text-anchor="end">8</text>
<text x="1853" y="86.0">1</text>
<text x="1853" y="189.0">0</text>
<text x="1853" y="292.0">−1</text>
<text x="1853" y="395.0">−2</text>
<text x="1853" y="498.0">−3</text>
</g>
<g font-family="'Liberation Sans', Arial, Helvetica, sans-serif" font-size="23.5" fill="#000" text-anchor="middle">
<text transform="translate(217.5 409.2) rotate(23)" y="8.4">−0.4</text>
<text transform="translate(192.5 470.0) rotate(6.7)" y="8.4">−0.2</text>
<text transform="translate(478.5 455.0) rotate(-9.5)" y="8.4">0.2</text>
<text transform="translate(440.5 345.5) rotate(-50)" y="8.4">0.4</text>
<text transform="translate(1059.5 356.5) rotate(-9)" y="8.4">−1.6</text>
<text transform="translate(1006.0 534.0) rotate(0)" y="8.4">−0.2</text>
<text transform="translate(1644.2 300.9) rotate(0)" y="8.4">0.8</text>
<text transform="translate(1591.7 501.0) rotate(0)" y="8.4">0.2</text>
</g>
<text x="345.7" y="677" font-family="'Liberation Sans', Arial, Helvetica, sans-serif" font-size="34" text-anchor="middle"><tspan font-style="italic">a</tspan><tspan dx="1.5">(ps</tspan><tspan font-size="24" dy="-13">2</tspan><tspan dy="13">)</tspan></text>
<text x="914.5" y="682" font-family="'Liberation Sans', Arial, Helvetica, sans-serif" font-size="34" text-anchor="middle"><tspan font-style="italic">a</tspan><tspan dx="1.5">(ps</tspan><tspan font-size="24" dy="-13">2</tspan><tspan dy="13">)</tspan></text>
<text x="1497.3" y="682" font-family="'Liberation Sans', Arial, Helvetica, sans-serif" font-size="34" text-anchor="middle"><tspan font-style="italic">a</tspan><tspan dx="1.5">(ps</tspan><tspan font-size="24" dy="-13">2</tspan><tspan dy="13">)</tspan></text>
<g transform="translate(24.8 0) rotate(-90)" font-family="'Liberation Serif', 'Times New Roman', serif" font-style="italic" font-size="37"><text x="-352.8">Θ</text><text x="-328.5" y="7.5" font-size="24">0</text><text x="-309.5">/</text><text x="-299.5">π</text></g>
<text transform="translate(1943 305.5) rotate(-90)" font-family="'Liberation Sans', Arial, Helvetica, sans-serif" font-size="34" text-anchor="middle"><tspan font-style="italic">Q</tspan>/<tspan font-style="italic">ℏ</tspan> (ps<tspan font-size="24" dy="-13">−1</tspan><tspan dy="13">)</tspan></text>
<text x="10.0" y="31" font-family="'Liberation Sans', Arial, Helvetica, sans-serif" font-size="42" font-weight="bold">a</text>
<text x="639.5" y="31" font-family="'Liberation Sans', Arial, Helvetica, sans-serif" font-size="42" font-weight="bold">b</text>
<text x="1238.8" y="31" font-family="'Liberation Sans', Arial, Helvetica, sans-serif" font-size="42" font-weight="bold">c</text>
</svg>
</body></html>
